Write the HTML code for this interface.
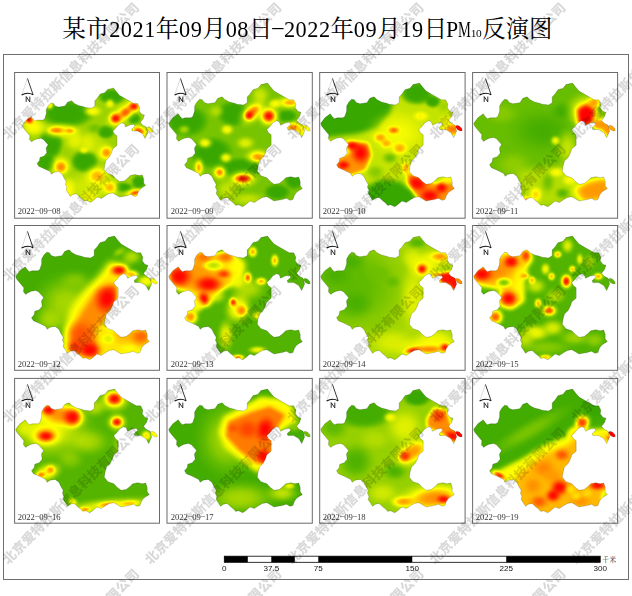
<!DOCTYPE html>
<html><head><meta charset="utf-8"><title>PM10</title>
<style>html,body{margin:0;padding:0;background:#fff;overflow:hidden}svg{display:block}</style></head><body>
<svg width="632" height="596" viewBox="0 0 632 596" font-family="'Liberation Sans', sans-serif">
<defs>
<filter id="cm" x="0" y="0" width="100%" height="100%" filterUnits="objectBoundingBox" color-interpolation-filters="sRGB"><feGaussianBlur stdDeviation="1.2"/><feComponentTransfer><feFuncR type="table" tableValues="0.22 0.40 0.62 0.85 1 1 1 1 1"/><feFuncG type="table" tableValues="0.655 0.74 0.83 0.93 1 0.78 0.55 0.27 0"/><feFuncB type="table" tableValues="0 0 0 0 0 0 0 0 0"/><feFuncA type="linear" slope="0" intercept="1"/></feComponentTransfer></filter>
<filter id="b4" x="-40%" y="-40%" width="180%" height="180%" color-interpolation-filters="sRGB"><feGaussianBlur stdDeviation="0.98"/></filter>
<filter id="b6" x="-40%" y="-40%" width="180%" height="180%" color-interpolation-filters="sRGB"><feGaussianBlur stdDeviation="1.47"/></filter>
<filter id="b7" x="-40%" y="-40%" width="180%" height="180%" color-interpolation-filters="sRGB"><feGaussianBlur stdDeviation="1.71"/></filter>
<filter id="b8" x="-40%" y="-40%" width="180%" height="180%" color-interpolation-filters="sRGB"><feGaussianBlur stdDeviation="1.96"/></filter>
<filter id="b9" x="-40%" y="-40%" width="180%" height="180%" color-interpolation-filters="sRGB"><feGaussianBlur stdDeviation="2.20"/></filter>
<filter id="b10" x="-40%" y="-40%" width="180%" height="180%" color-interpolation-filters="sRGB"><feGaussianBlur stdDeviation="2.45"/></filter>
<filter id="b12" x="-40%" y="-40%" width="180%" height="180%" color-interpolation-filters="sRGB"><feGaussianBlur stdDeviation="2.94"/></filter>
<filter id="b15" x="-40%" y="-40%" width="180%" height="180%" color-interpolation-filters="sRGB"><feGaussianBlur stdDeviation="3.67"/></filter>
<radialGradient id="v0"><stop offset="0" stop-color="#000000"/><stop offset=".25" stop-color="#000000" stop-opacity=".93"/><stop offset=".45" stop-color="#000000" stop-opacity=".66"/><stop offset=".65" stop-color="#000000" stop-opacity=".32"/><stop offset=".85" stop-color="#000000" stop-opacity=".07"/><stop offset="1" stop-color="#000000" stop-opacity="0"/></radialGradient>
<radialGradient id="v0f"><stop offset="0" stop-color="#000000"/><stop offset=".55" stop-color="#000000" stop-opacity=".97"/><stop offset=".72" stop-color="#000000" stop-opacity=".7"/><stop offset=".88" stop-color="#000000" stop-opacity=".22"/><stop offset="1" stop-color="#000000" stop-opacity="0"/></radialGradient>
<radialGradient id="v3"><stop offset="0" stop-color="#080808"/><stop offset=".25" stop-color="#080808" stop-opacity=".93"/><stop offset=".45" stop-color="#080808" stop-opacity=".66"/><stop offset=".65" stop-color="#080808" stop-opacity=".32"/><stop offset=".85" stop-color="#080808" stop-opacity=".07"/><stop offset="1" stop-color="#080808" stop-opacity="0"/></radialGradient>
<radialGradient id="v3f"><stop offset="0" stop-color="#080808"/><stop offset=".55" stop-color="#080808" stop-opacity=".97"/><stop offset=".72" stop-color="#080808" stop-opacity=".7"/><stop offset=".88" stop-color="#080808" stop-opacity=".22"/><stop offset="1" stop-color="#080808" stop-opacity="0"/></radialGradient>
<radialGradient id="v4"><stop offset="0" stop-color="#0a0a0a"/><stop offset=".25" stop-color="#0a0a0a" stop-opacity=".93"/><stop offset=".45" stop-color="#0a0a0a" stop-opacity=".66"/><stop offset=".65" stop-color="#0a0a0a" stop-opacity=".32"/><stop offset=".85" stop-color="#0a0a0a" stop-opacity=".07"/><stop offset="1" stop-color="#0a0a0a" stop-opacity="0"/></radialGradient>
<radialGradient id="v4f"><stop offset="0" stop-color="#0a0a0a"/><stop offset=".55" stop-color="#0a0a0a" stop-opacity=".97"/><stop offset=".72" stop-color="#0a0a0a" stop-opacity=".7"/><stop offset=".88" stop-color="#0a0a0a" stop-opacity=".22"/><stop offset="1" stop-color="#0a0a0a" stop-opacity="0"/></radialGradient>
<radialGradient id="v5"><stop offset="0" stop-color="#0d0d0d"/><stop offset=".25" stop-color="#0d0d0d" stop-opacity=".93"/><stop offset=".45" stop-color="#0d0d0d" stop-opacity=".66"/><stop offset=".65" stop-color="#0d0d0d" stop-opacity=".32"/><stop offset=".85" stop-color="#0d0d0d" stop-opacity=".07"/><stop offset="1" stop-color="#0d0d0d" stop-opacity="0"/></radialGradient>
<radialGradient id="v5f"><stop offset="0" stop-color="#0d0d0d"/><stop offset=".55" stop-color="#0d0d0d" stop-opacity=".97"/><stop offset=".72" stop-color="#0d0d0d" stop-opacity=".7"/><stop offset=".88" stop-color="#0d0d0d" stop-opacity=".22"/><stop offset="1" stop-color="#0d0d0d" stop-opacity="0"/></radialGradient>
<radialGradient id="v6"><stop offset="0" stop-color="#0f0f0f"/><stop offset=".25" stop-color="#0f0f0f" stop-opacity=".93"/><stop offset=".45" stop-color="#0f0f0f" stop-opacity=".66"/><stop offset=".65" stop-color="#0f0f0f" stop-opacity=".32"/><stop offset=".85" stop-color="#0f0f0f" stop-opacity=".07"/><stop offset="1" stop-color="#0f0f0f" stop-opacity="0"/></radialGradient>
<radialGradient id="v6f"><stop offset="0" stop-color="#0f0f0f"/><stop offset=".55" stop-color="#0f0f0f" stop-opacity=".97"/><stop offset=".72" stop-color="#0f0f0f" stop-opacity=".7"/><stop offset=".88" stop-color="#0f0f0f" stop-opacity=".22"/><stop offset="1" stop-color="#0f0f0f" stop-opacity="0"/></radialGradient>
<radialGradient id="v8"><stop offset="0" stop-color="#141414"/><stop offset=".25" stop-color="#141414" stop-opacity=".93"/><stop offset=".45" stop-color="#141414" stop-opacity=".66"/><stop offset=".65" stop-color="#141414" stop-opacity=".32"/><stop offset=".85" stop-color="#141414" stop-opacity=".07"/><stop offset="1" stop-color="#141414" stop-opacity="0"/></radialGradient>
<radialGradient id="v8f"><stop offset="0" stop-color="#141414"/><stop offset=".55" stop-color="#141414" stop-opacity=".97"/><stop offset=".72" stop-color="#141414" stop-opacity=".7"/><stop offset=".88" stop-color="#141414" stop-opacity=".22"/><stop offset="1" stop-color="#141414" stop-opacity="0"/></radialGradient>
<radialGradient id="v10"><stop offset="0" stop-color="#1a1a1a"/><stop offset=".25" stop-color="#1a1a1a" stop-opacity=".93"/><stop offset=".45" stop-color="#1a1a1a" stop-opacity=".66"/><stop offset=".65" stop-color="#1a1a1a" stop-opacity=".32"/><stop offset=".85" stop-color="#1a1a1a" stop-opacity=".07"/><stop offset="1" stop-color="#1a1a1a" stop-opacity="0"/></radialGradient>
<radialGradient id="v10f"><stop offset="0" stop-color="#1a1a1a"/><stop offset=".55" stop-color="#1a1a1a" stop-opacity=".97"/><stop offset=".72" stop-color="#1a1a1a" stop-opacity=".7"/><stop offset=".88" stop-color="#1a1a1a" stop-opacity=".22"/><stop offset="1" stop-color="#1a1a1a" stop-opacity="0"/></radialGradient>
<radialGradient id="v12"><stop offset="0" stop-color="#1f1f1f"/><stop offset=".25" stop-color="#1f1f1f" stop-opacity=".93"/><stop offset=".45" stop-color="#1f1f1f" stop-opacity=".66"/><stop offset=".65" stop-color="#1f1f1f" stop-opacity=".32"/><stop offset=".85" stop-color="#1f1f1f" stop-opacity=".07"/><stop offset="1" stop-color="#1f1f1f" stop-opacity="0"/></radialGradient>
<radialGradient id="v12f"><stop offset="0" stop-color="#1f1f1f"/><stop offset=".55" stop-color="#1f1f1f" stop-opacity=".97"/><stop offset=".72" stop-color="#1f1f1f" stop-opacity=".7"/><stop offset=".88" stop-color="#1f1f1f" stop-opacity=".22"/><stop offset="1" stop-color="#1f1f1f" stop-opacity="0"/></radialGradient>
<radialGradient id="v14"><stop offset="0" stop-color="#242424"/><stop offset=".25" stop-color="#242424" stop-opacity=".93"/><stop offset=".45" stop-color="#242424" stop-opacity=".66"/><stop offset=".65" stop-color="#242424" stop-opacity=".32"/><stop offset=".85" stop-color="#242424" stop-opacity=".07"/><stop offset="1" stop-color="#242424" stop-opacity="0"/></radialGradient>
<radialGradient id="v14f"><stop offset="0" stop-color="#242424"/><stop offset=".55" stop-color="#242424" stop-opacity=".97"/><stop offset=".72" stop-color="#242424" stop-opacity=".7"/><stop offset=".88" stop-color="#242424" stop-opacity=".22"/><stop offset="1" stop-color="#242424" stop-opacity="0"/></radialGradient>
<radialGradient id="v15"><stop offset="0" stop-color="#262626"/><stop offset=".25" stop-color="#262626" stop-opacity=".93"/><stop offset=".45" stop-color="#262626" stop-opacity=".66"/><stop offset=".65" stop-color="#262626" stop-opacity=".32"/><stop offset=".85" stop-color="#262626" stop-opacity=".07"/><stop offset="1" stop-color="#262626" stop-opacity="0"/></radialGradient>
<radialGradient id="v15f"><stop offset="0" stop-color="#262626"/><stop offset=".55" stop-color="#262626" stop-opacity=".97"/><stop offset=".72" stop-color="#262626" stop-opacity=".7"/><stop offset=".88" stop-color="#262626" stop-opacity=".22"/><stop offset="1" stop-color="#262626" stop-opacity="0"/></radialGradient>
<radialGradient id="v17"><stop offset="0" stop-color="#2b2b2b"/><stop offset=".25" stop-color="#2b2b2b" stop-opacity=".93"/><stop offset=".45" stop-color="#2b2b2b" stop-opacity=".66"/><stop offset=".65" stop-color="#2b2b2b" stop-opacity=".32"/><stop offset=".85" stop-color="#2b2b2b" stop-opacity=".07"/><stop offset="1" stop-color="#2b2b2b" stop-opacity="0"/></radialGradient>
<radialGradient id="v17f"><stop offset="0" stop-color="#2b2b2b"/><stop offset=".55" stop-color="#2b2b2b" stop-opacity=".97"/><stop offset=".72" stop-color="#2b2b2b" stop-opacity=".7"/><stop offset=".88" stop-color="#2b2b2b" stop-opacity=".22"/><stop offset="1" stop-color="#2b2b2b" stop-opacity="0"/></radialGradient>
<radialGradient id="v20"><stop offset="0" stop-color="#333333"/><stop offset=".25" stop-color="#333333" stop-opacity=".93"/><stop offset=".45" stop-color="#333333" stop-opacity=".66"/><stop offset=".65" stop-color="#333333" stop-opacity=".32"/><stop offset=".85" stop-color="#333333" stop-opacity=".07"/><stop offset="1" stop-color="#333333" stop-opacity="0"/></radialGradient>
<radialGradient id="v20f"><stop offset="0" stop-color="#333333"/><stop offset=".55" stop-color="#333333" stop-opacity=".97"/><stop offset=".72" stop-color="#333333" stop-opacity=".7"/><stop offset=".88" stop-color="#333333" stop-opacity=".22"/><stop offset="1" stop-color="#333333" stop-opacity="0"/></radialGradient>
<radialGradient id="v22"><stop offset="0" stop-color="#383838"/><stop offset=".25" stop-color="#383838" stop-opacity=".93"/><stop offset=".45" stop-color="#383838" stop-opacity=".66"/><stop offset=".65" stop-color="#383838" stop-opacity=".32"/><stop offset=".85" stop-color="#383838" stop-opacity=".07"/><stop offset="1" stop-color="#383838" stop-opacity="0"/></radialGradient>
<radialGradient id="v22f"><stop offset="0" stop-color="#383838"/><stop offset=".55" stop-color="#383838" stop-opacity=".97"/><stop offset=".72" stop-color="#383838" stop-opacity=".7"/><stop offset=".88" stop-color="#383838" stop-opacity=".22"/><stop offset="1" stop-color="#383838" stop-opacity="0"/></radialGradient>
<radialGradient id="v25"><stop offset="0" stop-color="#404040"/><stop offset=".25" stop-color="#404040" stop-opacity=".93"/><stop offset=".45" stop-color="#404040" stop-opacity=".66"/><stop offset=".65" stop-color="#404040" stop-opacity=".32"/><stop offset=".85" stop-color="#404040" stop-opacity=".07"/><stop offset="1" stop-color="#404040" stop-opacity="0"/></radialGradient>
<radialGradient id="v25f"><stop offset="0" stop-color="#404040"/><stop offset=".55" stop-color="#404040" stop-opacity=".97"/><stop offset=".72" stop-color="#404040" stop-opacity=".7"/><stop offset=".88" stop-color="#404040" stop-opacity=".22"/><stop offset="1" stop-color="#404040" stop-opacity="0"/></radialGradient>
<radialGradient id="v27"><stop offset="0" stop-color="#454545"/><stop offset=".25" stop-color="#454545" stop-opacity=".93"/><stop offset=".45" stop-color="#454545" stop-opacity=".66"/><stop offset=".65" stop-color="#454545" stop-opacity=".32"/><stop offset=".85" stop-color="#454545" stop-opacity=".07"/><stop offset="1" stop-color="#454545" stop-opacity="0"/></radialGradient>
<radialGradient id="v27f"><stop offset="0" stop-color="#454545"/><stop offset=".55" stop-color="#454545" stop-opacity=".97"/><stop offset=".72" stop-color="#454545" stop-opacity=".7"/><stop offset=".88" stop-color="#454545" stop-opacity=".22"/><stop offset="1" stop-color="#454545" stop-opacity="0"/></radialGradient>
<radialGradient id="v30"><stop offset="0" stop-color="#4c4c4c"/><stop offset=".25" stop-color="#4c4c4c" stop-opacity=".93"/><stop offset=".45" stop-color="#4c4c4c" stop-opacity=".66"/><stop offset=".65" stop-color="#4c4c4c" stop-opacity=".32"/><stop offset=".85" stop-color="#4c4c4c" stop-opacity=".07"/><stop offset="1" stop-color="#4c4c4c" stop-opacity="0"/></radialGradient>
<radialGradient id="v30f"><stop offset="0" stop-color="#4c4c4c"/><stop offset=".55" stop-color="#4c4c4c" stop-opacity=".97"/><stop offset=".72" stop-color="#4c4c4c" stop-opacity=".7"/><stop offset=".88" stop-color="#4c4c4c" stop-opacity=".22"/><stop offset="1" stop-color="#4c4c4c" stop-opacity="0"/></radialGradient>
<radialGradient id="v32"><stop offset="0" stop-color="#525252"/><stop offset=".25" stop-color="#525252" stop-opacity=".93"/><stop offset=".45" stop-color="#525252" stop-opacity=".66"/><stop offset=".65" stop-color="#525252" stop-opacity=".32"/><stop offset=".85" stop-color="#525252" stop-opacity=".07"/><stop offset="1" stop-color="#525252" stop-opacity="0"/></radialGradient>
<radialGradient id="v32f"><stop offset="0" stop-color="#525252"/><stop offset=".55" stop-color="#525252" stop-opacity=".97"/><stop offset=".72" stop-color="#525252" stop-opacity=".7"/><stop offset=".88" stop-color="#525252" stop-opacity=".22"/><stop offset="1" stop-color="#525252" stop-opacity="0"/></radialGradient>
<radialGradient id="v33"><stop offset="0" stop-color="#545454"/><stop offset=".25" stop-color="#545454" stop-opacity=".93"/><stop offset=".45" stop-color="#545454" stop-opacity=".66"/><stop offset=".65" stop-color="#545454" stop-opacity=".32"/><stop offset=".85" stop-color="#545454" stop-opacity=".07"/><stop offset="1" stop-color="#545454" stop-opacity="0"/></radialGradient>
<radialGradient id="v33f"><stop offset="0" stop-color="#545454"/><stop offset=".55" stop-color="#545454" stop-opacity=".97"/><stop offset=".72" stop-color="#545454" stop-opacity=".7"/><stop offset=".88" stop-color="#545454" stop-opacity=".22"/><stop offset="1" stop-color="#545454" stop-opacity="0"/></radialGradient>
<radialGradient id="v35"><stop offset="0" stop-color="#595959"/><stop offset=".25" stop-color="#595959" stop-opacity=".93"/><stop offset=".45" stop-color="#595959" stop-opacity=".66"/><stop offset=".65" stop-color="#595959" stop-opacity=".32"/><stop offset=".85" stop-color="#595959" stop-opacity=".07"/><stop offset="1" stop-color="#595959" stop-opacity="0"/></radialGradient>
<radialGradient id="v35f"><stop offset="0" stop-color="#595959"/><stop offset=".55" stop-color="#595959" stop-opacity=".97"/><stop offset=".72" stop-color="#595959" stop-opacity=".7"/><stop offset=".88" stop-color="#595959" stop-opacity=".22"/><stop offset="1" stop-color="#595959" stop-opacity="0"/></radialGradient>
<radialGradient id="v36"><stop offset="0" stop-color="#5c5c5c"/><stop offset=".25" stop-color="#5c5c5c" stop-opacity=".93"/><stop offset=".45" stop-color="#5c5c5c" stop-opacity=".66"/><stop offset=".65" stop-color="#5c5c5c" stop-opacity=".32"/><stop offset=".85" stop-color="#5c5c5c" stop-opacity=".07"/><stop offset="1" stop-color="#5c5c5c" stop-opacity="0"/></radialGradient>
<radialGradient id="v36f"><stop offset="0" stop-color="#5c5c5c"/><stop offset=".55" stop-color="#5c5c5c" stop-opacity=".97"/><stop offset=".72" stop-color="#5c5c5c" stop-opacity=".7"/><stop offset=".88" stop-color="#5c5c5c" stop-opacity=".22"/><stop offset="1" stop-color="#5c5c5c" stop-opacity="0"/></radialGradient>
<radialGradient id="v38"><stop offset="0" stop-color="#616161"/><stop offset=".25" stop-color="#616161" stop-opacity=".93"/><stop offset=".45" stop-color="#616161" stop-opacity=".66"/><stop offset=".65" stop-color="#616161" stop-opacity=".32"/><stop offset=".85" stop-color="#616161" stop-opacity=".07"/><stop offset="1" stop-color="#616161" stop-opacity="0"/></radialGradient>
<radialGradient id="v38f"><stop offset="0" stop-color="#616161"/><stop offset=".55" stop-color="#616161" stop-opacity=".97"/><stop offset=".72" stop-color="#616161" stop-opacity=".7"/><stop offset=".88" stop-color="#616161" stop-opacity=".22"/><stop offset="1" stop-color="#616161" stop-opacity="0"/></radialGradient>
<radialGradient id="v40"><stop offset="0" stop-color="#666666"/><stop offset=".25" stop-color="#666666" stop-opacity=".93"/><stop offset=".45" stop-color="#666666" stop-opacity=".66"/><stop offset=".65" stop-color="#666666" stop-opacity=".32"/><stop offset=".85" stop-color="#666666" stop-opacity=".07"/><stop offset="1" stop-color="#666666" stop-opacity="0"/></radialGradient>
<radialGradient id="v40f"><stop offset="0" stop-color="#666666"/><stop offset=".55" stop-color="#666666" stop-opacity=".97"/><stop offset=".72" stop-color="#666666" stop-opacity=".7"/><stop offset=".88" stop-color="#666666" stop-opacity=".22"/><stop offset="1" stop-color="#666666" stop-opacity="0"/></radialGradient>
<radialGradient id="v42"><stop offset="0" stop-color="#6b6b6b"/><stop offset=".25" stop-color="#6b6b6b" stop-opacity=".93"/><stop offset=".45" stop-color="#6b6b6b" stop-opacity=".66"/><stop offset=".65" stop-color="#6b6b6b" stop-opacity=".32"/><stop offset=".85" stop-color="#6b6b6b" stop-opacity=".07"/><stop offset="1" stop-color="#6b6b6b" stop-opacity="0"/></radialGradient>
<radialGradient id="v42f"><stop offset="0" stop-color="#6b6b6b"/><stop offset=".55" stop-color="#6b6b6b" stop-opacity=".97"/><stop offset=".72" stop-color="#6b6b6b" stop-opacity=".7"/><stop offset=".88" stop-color="#6b6b6b" stop-opacity=".22"/><stop offset="1" stop-color="#6b6b6b" stop-opacity="0"/></radialGradient>
<radialGradient id="v45"><stop offset="0" stop-color="#737373"/><stop offset=".25" stop-color="#737373" stop-opacity=".93"/><stop offset=".45" stop-color="#737373" stop-opacity=".66"/><stop offset=".65" stop-color="#737373" stop-opacity=".32"/><stop offset=".85" stop-color="#737373" stop-opacity=".07"/><stop offset="1" stop-color="#737373" stop-opacity="0"/></radialGradient>
<radialGradient id="v45f"><stop offset="0" stop-color="#737373"/><stop offset=".55" stop-color="#737373" stop-opacity=".97"/><stop offset=".72" stop-color="#737373" stop-opacity=".7"/><stop offset=".88" stop-color="#737373" stop-opacity=".22"/><stop offset="1" stop-color="#737373" stop-opacity="0"/></radialGradient>
<radialGradient id="v47"><stop offset="0" stop-color="#787878"/><stop offset=".25" stop-color="#787878" stop-opacity=".93"/><stop offset=".45" stop-color="#787878" stop-opacity=".66"/><stop offset=".65" stop-color="#787878" stop-opacity=".32"/><stop offset=".85" stop-color="#787878" stop-opacity=".07"/><stop offset="1" stop-color="#787878" stop-opacity="0"/></radialGradient>
<radialGradient id="v47f"><stop offset="0" stop-color="#787878"/><stop offset=".55" stop-color="#787878" stop-opacity=".97"/><stop offset=".72" stop-color="#787878" stop-opacity=".7"/><stop offset=".88" stop-color="#787878" stop-opacity=".22"/><stop offset="1" stop-color="#787878" stop-opacity="0"/></radialGradient>
<radialGradient id="v50"><stop offset="0" stop-color="#808080"/><stop offset=".25" stop-color="#808080" stop-opacity=".93"/><stop offset=".45" stop-color="#808080" stop-opacity=".66"/><stop offset=".65" stop-color="#808080" stop-opacity=".32"/><stop offset=".85" stop-color="#808080" stop-opacity=".07"/><stop offset="1" stop-color="#808080" stop-opacity="0"/></radialGradient>
<radialGradient id="v50f"><stop offset="0" stop-color="#808080"/><stop offset=".55" stop-color="#808080" stop-opacity=".97"/><stop offset=".72" stop-color="#808080" stop-opacity=".7"/><stop offset=".88" stop-color="#808080" stop-opacity=".22"/><stop offset="1" stop-color="#808080" stop-opacity="0"/></radialGradient>
<radialGradient id="v55"><stop offset="0" stop-color="#8c8c8c"/><stop offset=".25" stop-color="#8c8c8c" stop-opacity=".93"/><stop offset=".45" stop-color="#8c8c8c" stop-opacity=".66"/><stop offset=".65" stop-color="#8c8c8c" stop-opacity=".32"/><stop offset=".85" stop-color="#8c8c8c" stop-opacity=".07"/><stop offset="1" stop-color="#8c8c8c" stop-opacity="0"/></radialGradient>
<radialGradient id="v55f"><stop offset="0" stop-color="#8c8c8c"/><stop offset=".55" stop-color="#8c8c8c" stop-opacity=".97"/><stop offset=".72" stop-color="#8c8c8c" stop-opacity=".7"/><stop offset=".88" stop-color="#8c8c8c" stop-opacity=".22"/><stop offset="1" stop-color="#8c8c8c" stop-opacity="0"/></radialGradient>
<radialGradient id="v56"><stop offset="0" stop-color="#8f8f8f"/><stop offset=".25" stop-color="#8f8f8f" stop-opacity=".93"/><stop offset=".45" stop-color="#8f8f8f" stop-opacity=".66"/><stop offset=".65" stop-color="#8f8f8f" stop-opacity=".32"/><stop offset=".85" stop-color="#8f8f8f" stop-opacity=".07"/><stop offset="1" stop-color="#8f8f8f" stop-opacity="0"/></radialGradient>
<radialGradient id="v56f"><stop offset="0" stop-color="#8f8f8f"/><stop offset=".55" stop-color="#8f8f8f" stop-opacity=".97"/><stop offset=".72" stop-color="#8f8f8f" stop-opacity=".7"/><stop offset=".88" stop-color="#8f8f8f" stop-opacity=".22"/><stop offset="1" stop-color="#8f8f8f" stop-opacity="0"/></radialGradient>
<radialGradient id="v58"><stop offset="0" stop-color="#949494"/><stop offset=".25" stop-color="#949494" stop-opacity=".93"/><stop offset=".45" stop-color="#949494" stop-opacity=".66"/><stop offset=".65" stop-color="#949494" stop-opacity=".32"/><stop offset=".85" stop-color="#949494" stop-opacity=".07"/><stop offset="1" stop-color="#949494" stop-opacity="0"/></radialGradient>
<radialGradient id="v58f"><stop offset="0" stop-color="#949494"/><stop offset=".55" stop-color="#949494" stop-opacity=".97"/><stop offset=".72" stop-color="#949494" stop-opacity=".7"/><stop offset=".88" stop-color="#949494" stop-opacity=".22"/><stop offset="1" stop-color="#949494" stop-opacity="0"/></radialGradient>
<radialGradient id="v60"><stop offset="0" stop-color="#999999"/><stop offset=".25" stop-color="#999999" stop-opacity=".93"/><stop offset=".45" stop-color="#999999" stop-opacity=".66"/><stop offset=".65" stop-color="#999999" stop-opacity=".32"/><stop offset=".85" stop-color="#999999" stop-opacity=".07"/><stop offset="1" stop-color="#999999" stop-opacity="0"/></radialGradient>
<radialGradient id="v60f"><stop offset="0" stop-color="#999999"/><stop offset=".55" stop-color="#999999" stop-opacity=".97"/><stop offset=".72" stop-color="#999999" stop-opacity=".7"/><stop offset=".88" stop-color="#999999" stop-opacity=".22"/><stop offset="1" stop-color="#999999" stop-opacity="0"/></radialGradient>
<radialGradient id="v62"><stop offset="0" stop-color="#9e9e9e"/><stop offset=".25" stop-color="#9e9e9e" stop-opacity=".93"/><stop offset=".45" stop-color="#9e9e9e" stop-opacity=".66"/><stop offset=".65" stop-color="#9e9e9e" stop-opacity=".32"/><stop offset=".85" stop-color="#9e9e9e" stop-opacity=".07"/><stop offset="1" stop-color="#9e9e9e" stop-opacity="0"/></radialGradient>
<radialGradient id="v62f"><stop offset="0" stop-color="#9e9e9e"/><stop offset=".55" stop-color="#9e9e9e" stop-opacity=".97"/><stop offset=".72" stop-color="#9e9e9e" stop-opacity=".7"/><stop offset=".88" stop-color="#9e9e9e" stop-opacity=".22"/><stop offset="1" stop-color="#9e9e9e" stop-opacity="0"/></radialGradient>
<radialGradient id="v66"><stop offset="0" stop-color="#a8a8a8"/><stop offset=".25" stop-color="#a8a8a8" stop-opacity=".93"/><stop offset=".45" stop-color="#a8a8a8" stop-opacity=".66"/><stop offset=".65" stop-color="#a8a8a8" stop-opacity=".32"/><stop offset=".85" stop-color="#a8a8a8" stop-opacity=".07"/><stop offset="1" stop-color="#a8a8a8" stop-opacity="0"/></radialGradient>
<radialGradient id="v66f"><stop offset="0" stop-color="#a8a8a8"/><stop offset=".55" stop-color="#a8a8a8" stop-opacity=".97"/><stop offset=".72" stop-color="#a8a8a8" stop-opacity=".7"/><stop offset=".88" stop-color="#a8a8a8" stop-opacity=".22"/><stop offset="1" stop-color="#a8a8a8" stop-opacity="0"/></radialGradient>
<radialGradient id="v68"><stop offset="0" stop-color="#adadad"/><stop offset=".25" stop-color="#adadad" stop-opacity=".93"/><stop offset=".45" stop-color="#adadad" stop-opacity=".66"/><stop offset=".65" stop-color="#adadad" stop-opacity=".32"/><stop offset=".85" stop-color="#adadad" stop-opacity=".07"/><stop offset="1" stop-color="#adadad" stop-opacity="0"/></radialGradient>
<radialGradient id="v68f"><stop offset="0" stop-color="#adadad"/><stop offset=".55" stop-color="#adadad" stop-opacity=".97"/><stop offset=".72" stop-color="#adadad" stop-opacity=".7"/><stop offset=".88" stop-color="#adadad" stop-opacity=".22"/><stop offset="1" stop-color="#adadad" stop-opacity="0"/></radialGradient>
<radialGradient id="v70"><stop offset="0" stop-color="#b2b2b2"/><stop offset=".25" stop-color="#b2b2b2" stop-opacity=".93"/><stop offset=".45" stop-color="#b2b2b2" stop-opacity=".66"/><stop offset=".65" stop-color="#b2b2b2" stop-opacity=".32"/><stop offset=".85" stop-color="#b2b2b2" stop-opacity=".07"/><stop offset="1" stop-color="#b2b2b2" stop-opacity="0"/></radialGradient>
<radialGradient id="v70f"><stop offset="0" stop-color="#b2b2b2"/><stop offset=".55" stop-color="#b2b2b2" stop-opacity=".97"/><stop offset=".72" stop-color="#b2b2b2" stop-opacity=".7"/><stop offset=".88" stop-color="#b2b2b2" stop-opacity=".22"/><stop offset="1" stop-color="#b2b2b2" stop-opacity="0"/></radialGradient>
<radialGradient id="v72"><stop offset="0" stop-color="#b8b8b8"/><stop offset=".25" stop-color="#b8b8b8" stop-opacity=".93"/><stop offset=".45" stop-color="#b8b8b8" stop-opacity=".66"/><stop offset=".65" stop-color="#b8b8b8" stop-opacity=".32"/><stop offset=".85" stop-color="#b8b8b8" stop-opacity=".07"/><stop offset="1" stop-color="#b8b8b8" stop-opacity="0"/></radialGradient>
<radialGradient id="v72f"><stop offset="0" stop-color="#b8b8b8"/><stop offset=".55" stop-color="#b8b8b8" stop-opacity=".97"/><stop offset=".72" stop-color="#b8b8b8" stop-opacity=".7"/><stop offset=".88" stop-color="#b8b8b8" stop-opacity=".22"/><stop offset="1" stop-color="#b8b8b8" stop-opacity="0"/></radialGradient>
<radialGradient id="v74"><stop offset="0" stop-color="#bdbdbd"/><stop offset=".25" stop-color="#bdbdbd" stop-opacity=".93"/><stop offset=".45" stop-color="#bdbdbd" stop-opacity=".66"/><stop offset=".65" stop-color="#bdbdbd" stop-opacity=".32"/><stop offset=".85" stop-color="#bdbdbd" stop-opacity=".07"/><stop offset="1" stop-color="#bdbdbd" stop-opacity="0"/></radialGradient>
<radialGradient id="v74f"><stop offset="0" stop-color="#bdbdbd"/><stop offset=".55" stop-color="#bdbdbd" stop-opacity=".97"/><stop offset=".72" stop-color="#bdbdbd" stop-opacity=".7"/><stop offset=".88" stop-color="#bdbdbd" stop-opacity=".22"/><stop offset="1" stop-color="#bdbdbd" stop-opacity="0"/></radialGradient>
<radialGradient id="v75"><stop offset="0" stop-color="#bfbfbf"/><stop offset=".25" stop-color="#bfbfbf" stop-opacity=".93"/><stop offset=".45" stop-color="#bfbfbf" stop-opacity=".66"/><stop offset=".65" stop-color="#bfbfbf" stop-opacity=".32"/><stop offset=".85" stop-color="#bfbfbf" stop-opacity=".07"/><stop offset="1" stop-color="#bfbfbf" stop-opacity="0"/></radialGradient>
<radialGradient id="v75f"><stop offset="0" stop-color="#bfbfbf"/><stop offset=".55" stop-color="#bfbfbf" stop-opacity=".97"/><stop offset=".72" stop-color="#bfbfbf" stop-opacity=".7"/><stop offset=".88" stop-color="#bfbfbf" stop-opacity=".22"/><stop offset="1" stop-color="#bfbfbf" stop-opacity="0"/></radialGradient>
<radialGradient id="v76"><stop offset="0" stop-color="#c2c2c2"/><stop offset=".25" stop-color="#c2c2c2" stop-opacity=".93"/><stop offset=".45" stop-color="#c2c2c2" stop-opacity=".66"/><stop offset=".65" stop-color="#c2c2c2" stop-opacity=".32"/><stop offset=".85" stop-color="#c2c2c2" stop-opacity=".07"/><stop offset="1" stop-color="#c2c2c2" stop-opacity="0"/></radialGradient>
<radialGradient id="v76f"><stop offset="0" stop-color="#c2c2c2"/><stop offset=".55" stop-color="#c2c2c2" stop-opacity=".97"/><stop offset=".72" stop-color="#c2c2c2" stop-opacity=".7"/><stop offset=".88" stop-color="#c2c2c2" stop-opacity=".22"/><stop offset="1" stop-color="#c2c2c2" stop-opacity="0"/></radialGradient>
<radialGradient id="v78"><stop offset="0" stop-color="#c7c7c7"/><stop offset=".25" stop-color="#c7c7c7" stop-opacity=".93"/><stop offset=".45" stop-color="#c7c7c7" stop-opacity=".66"/><stop offset=".65" stop-color="#c7c7c7" stop-opacity=".32"/><stop offset=".85" stop-color="#c7c7c7" stop-opacity=".07"/><stop offset="1" stop-color="#c7c7c7" stop-opacity="0"/></radialGradient>
<radialGradient id="v78f"><stop offset="0" stop-color="#c7c7c7"/><stop offset=".55" stop-color="#c7c7c7" stop-opacity=".97"/><stop offset=".72" stop-color="#c7c7c7" stop-opacity=".7"/><stop offset=".88" stop-color="#c7c7c7" stop-opacity=".22"/><stop offset="1" stop-color="#c7c7c7" stop-opacity="0"/></radialGradient>
<radialGradient id="v80"><stop offset="0" stop-color="#cccccc"/><stop offset=".25" stop-color="#cccccc" stop-opacity=".93"/><stop offset=".45" stop-color="#cccccc" stop-opacity=".66"/><stop offset=".65" stop-color="#cccccc" stop-opacity=".32"/><stop offset=".85" stop-color="#cccccc" stop-opacity=".07"/><stop offset="1" stop-color="#cccccc" stop-opacity="0"/></radialGradient>
<radialGradient id="v80f"><stop offset="0" stop-color="#cccccc"/><stop offset=".55" stop-color="#cccccc" stop-opacity=".97"/><stop offset=".72" stop-color="#cccccc" stop-opacity=".7"/><stop offset=".88" stop-color="#cccccc" stop-opacity=".22"/><stop offset="1" stop-color="#cccccc" stop-opacity="0"/></radialGradient>
<radialGradient id="v82"><stop offset="0" stop-color="#d1d1d1"/><stop offset=".25" stop-color="#d1d1d1" stop-opacity=".93"/><stop offset=".45" stop-color="#d1d1d1" stop-opacity=".66"/><stop offset=".65" stop-color="#d1d1d1" stop-opacity=".32"/><stop offset=".85" stop-color="#d1d1d1" stop-opacity=".07"/><stop offset="1" stop-color="#d1d1d1" stop-opacity="0"/></radialGradient>
<radialGradient id="v82f"><stop offset="0" stop-color="#d1d1d1"/><stop offset=".55" stop-color="#d1d1d1" stop-opacity=".97"/><stop offset=".72" stop-color="#d1d1d1" stop-opacity=".7"/><stop offset=".88" stop-color="#d1d1d1" stop-opacity=".22"/><stop offset="1" stop-color="#d1d1d1" stop-opacity="0"/></radialGradient>
<radialGradient id="v84"><stop offset="0" stop-color="#d6d6d6"/><stop offset=".25" stop-color="#d6d6d6" stop-opacity=".93"/><stop offset=".45" stop-color="#d6d6d6" stop-opacity=".66"/><stop offset=".65" stop-color="#d6d6d6" stop-opacity=".32"/><stop offset=".85" stop-color="#d6d6d6" stop-opacity=".07"/><stop offset="1" stop-color="#d6d6d6" stop-opacity="0"/></radialGradient>
<radialGradient id="v84f"><stop offset="0" stop-color="#d6d6d6"/><stop offset=".55" stop-color="#d6d6d6" stop-opacity=".97"/><stop offset=".72" stop-color="#d6d6d6" stop-opacity=".7"/><stop offset=".88" stop-color="#d6d6d6" stop-opacity=".22"/><stop offset="1" stop-color="#d6d6d6" stop-opacity="0"/></radialGradient>
<radialGradient id="v85"><stop offset="0" stop-color="#d9d9d9"/><stop offset=".25" stop-color="#d9d9d9" stop-opacity=".93"/><stop offset=".45" stop-color="#d9d9d9" stop-opacity=".66"/><stop offset=".65" stop-color="#d9d9d9" stop-opacity=".32"/><stop offset=".85" stop-color="#d9d9d9" stop-opacity=".07"/><stop offset="1" stop-color="#d9d9d9" stop-opacity="0"/></radialGradient>
<radialGradient id="v85f"><stop offset="0" stop-color="#d9d9d9"/><stop offset=".55" stop-color="#d9d9d9" stop-opacity=".97"/><stop offset=".72" stop-color="#d9d9d9" stop-opacity=".7"/><stop offset=".88" stop-color="#d9d9d9" stop-opacity=".22"/><stop offset="1" stop-color="#d9d9d9" stop-opacity="0"/></radialGradient>
<radialGradient id="v88"><stop offset="0" stop-color="#e0e0e0"/><stop offset=".25" stop-color="#e0e0e0" stop-opacity=".93"/><stop offset=".45" stop-color="#e0e0e0" stop-opacity=".66"/><stop offset=".65" stop-color="#e0e0e0" stop-opacity=".32"/><stop offset=".85" stop-color="#e0e0e0" stop-opacity=".07"/><stop offset="1" stop-color="#e0e0e0" stop-opacity="0"/></radialGradient>
<radialGradient id="v88f"><stop offset="0" stop-color="#e0e0e0"/><stop offset=".55" stop-color="#e0e0e0" stop-opacity=".97"/><stop offset=".72" stop-color="#e0e0e0" stop-opacity=".7"/><stop offset=".88" stop-color="#e0e0e0" stop-opacity=".22"/><stop offset="1" stop-color="#e0e0e0" stop-opacity="0"/></radialGradient>
<radialGradient id="v90"><stop offset="0" stop-color="#e6e6e6"/><stop offset=".25" stop-color="#e6e6e6" stop-opacity=".93"/><stop offset=".45" stop-color="#e6e6e6" stop-opacity=".66"/><stop offset=".65" stop-color="#e6e6e6" stop-opacity=".32"/><stop offset=".85" stop-color="#e6e6e6" stop-opacity=".07"/><stop offset="1" stop-color="#e6e6e6" stop-opacity="0"/></radialGradient>
<radialGradient id="v90f"><stop offset="0" stop-color="#e6e6e6"/><stop offset=".55" stop-color="#e6e6e6" stop-opacity=".97"/><stop offset=".72" stop-color="#e6e6e6" stop-opacity=".7"/><stop offset=".88" stop-color="#e6e6e6" stop-opacity=".22"/><stop offset="1" stop-color="#e6e6e6" stop-opacity="0"/></radialGradient>
<radialGradient id="v92"><stop offset="0" stop-color="#ebebeb"/><stop offset=".25" stop-color="#ebebeb" stop-opacity=".93"/><stop offset=".45" stop-color="#ebebeb" stop-opacity=".66"/><stop offset=".65" stop-color="#ebebeb" stop-opacity=".32"/><stop offset=".85" stop-color="#ebebeb" stop-opacity=".07"/><stop offset="1" stop-color="#ebebeb" stop-opacity="0"/></radialGradient>
<radialGradient id="v92f"><stop offset="0" stop-color="#ebebeb"/><stop offset=".55" stop-color="#ebebeb" stop-opacity=".97"/><stop offset=".72" stop-color="#ebebeb" stop-opacity=".7"/><stop offset=".88" stop-color="#ebebeb" stop-opacity=".22"/><stop offset="1" stop-color="#ebebeb" stop-opacity="0"/></radialGradient>
<radialGradient id="v95"><stop offset="0" stop-color="#f2f2f2"/><stop offset=".25" stop-color="#f2f2f2" stop-opacity=".93"/><stop offset=".45" stop-color="#f2f2f2" stop-opacity=".66"/><stop offset=".65" stop-color="#f2f2f2" stop-opacity=".32"/><stop offset=".85" stop-color="#f2f2f2" stop-opacity=".07"/><stop offset="1" stop-color="#f2f2f2" stop-opacity="0"/></radialGradient>
<radialGradient id="v95f"><stop offset="0" stop-color="#f2f2f2"/><stop offset=".55" stop-color="#f2f2f2" stop-opacity=".97"/><stop offset=".72" stop-color="#f2f2f2" stop-opacity=".7"/><stop offset=".88" stop-color="#f2f2f2" stop-opacity=".22"/><stop offset="1" stop-color="#f2f2f2" stop-opacity="0"/></radialGradient>
<radialGradient id="v100"><stop offset="0" stop-color="#ffffff"/><stop offset=".25" stop-color="#ffffff" stop-opacity=".93"/><stop offset=".45" stop-color="#ffffff" stop-opacity=".66"/><stop offset=".65" stop-color="#ffffff" stop-opacity=".32"/><stop offset=".85" stop-color="#ffffff" stop-opacity=".07"/><stop offset="1" stop-color="#ffffff" stop-opacity="0"/></radialGradient>
<radialGradient id="v100f"><stop offset="0" stop-color="#ffffff"/><stop offset=".55" stop-color="#ffffff" stop-opacity=".97"/><stop offset=".72" stop-color="#ffffff" stop-opacity=".7"/><stop offset=".88" stop-color="#ffffff" stop-opacity=".22"/><stop offset="1" stop-color="#ffffff" stop-opacity="0"/></radialGradient>
<path id="c0o" d="M8.4,53.2L12.2,48.1L17.2,44.4L18.9,46.9L21,49L23.5,48.1L28.9,48.1L30.6,46.9L32.3,41.8L32.3,37.2L34.4,33.5L36.9,30.9L39.4,31.4L41.1,33.9L44.5,35.1L51,34.1L53.7,30.1L57.7,28.7L60.4,31.4L64.4,33.4L69.8,34.8L71.4,35.5L77.4,36.2L80.8,34.2L80.8,28.8L83.4,26.1L86.1,22.1L90.8,20.7L93.5,17.4L99.6,16L102.2,19.4L105.6,23.4L110.3,26.1L116.3,29.5L119.7,31.5L123.7,31.5L125.7,35.5L125.1,38.9L127.7,42.2L130.4,42.9L129.1,46.9L126.4,50.3L128.4,53L132.4,55L133.8,60.3L131.1,66.4L128.4,61.7L123.7,59L118.3,59L117.7,57L121,54.3L119.7,52.3L115.7,53L111.6,55L110.3,51.6L107.6,50.9L104.3,53L101.6,56.3L98.9,59L100.2,61.7L102.9,63.7L102.9,70.4L102.9,73.4L98.9,76.7L97.5,80.8L95.5,84.8L92.1,88.1L90.8,92.8L90.1,97.5L93.5,101.6L98.9,103.6L102.2,106.9L105.6,109.6L110.3,108.9L113.6,106.3L116.3,103.6L121,102.6L125,103.6L128.4,102.9L129.7,106.9L129.7,111L131.7,113.6L129.1,115L126.4,117L124.4,119.7L123,123.7L120.3,124.4L117,122.4L113,123.7L108.9,124.4L105.6,125L102.2,123L98.9,121L94.8,121.7L91.5,123.7L87.4,126.4L83.4,125L79.4,128.4L76.7,130.4L72.7,128.4L70.3,129.1L67.7,126.4L65,124.4L62.3,121.7L58.9,122.4L56.2,124.4L54.2,121L52.2,118.3L52.9,115L51.5,112.3L52.2,109.6L50.2,106.3L48.2,102.2L44.8,99.5L40.1,100.2L37.4,102.2L36.1,99.5L30.7,96.9L24.7,94.2L23,91.5L25.4,88.8L26,85.4L30.1,84.1L32.8,80.8L32.1,76.1L34.1,72.7L32.3,70.8L29.4,67.4L26.8,66.2L22.7,67L19.7,68.3L17.6,69.9L15.5,67.4L15.9,63.7L12.6,59.9L9.2,55.7Z"/>
<clipPath id="c0"><use href="#c0o"/></clipPath>
<path id="c0i" d="M132.7,56.3L133.9,54.9L136.3,55.6L138.7,58.2L138.9,60L137,60.3L134.6,58.8Z"/>
<path id="c1o" d="M1.73,51.33L5.85,45.82L11.27,41.82L13.11,44.52L15.39,46.79L18.1,45.82L23.95,45.82L25.79,44.52L27.63,39.01L27.63,34.03L29.91,30.03L32.62,27.22L35.33,27.76L37.17,30.46L40.86,31.76L47.9,30.68L50.83,26.35L55.16,24.84L58.09,27.76L62.42,29.92L68.28,31.44L70.01,32.19L76.51,32.95L80.2,30.79L80.2,24.95L83.02,22.03L85.94,17.7L91.04,16.19L93.96,12.62L100.58,11.11L103.39,14.78L107.08,19.11L112.17,22.03L118.68,25.71L122.36,27.87L126.7,27.87L128.86,32.19L128.21,35.87L131.03,39.44L133.96,40.2L132.55,44.52L129.62,48.2L131.79,51.12L136.13,53.28L137.64,59.01L134.72,65.61L131.79,60.53L126.7,57.61L120.84,57.61L120.19,55.44L123.77,52.52L122.36,50.36L118.03,51.12L113.58,53.28L112.17,49.6L109.25,48.85L105.67,51.12L102.74,54.69L99.82,57.61L101.23,60.53L104.15,62.69L104.15,69.93L104.15,73.18L99.82,76.75L98.3,81.18L96.13,85.5L92.45,89.07L91.04,94.16L90.28,99.24L93.96,103.67L99.82,105.83L103.39,109.4L107.08,112.32L112.17,111.57L115.75,108.75L118.68,105.83L123.77,104.75L128.1,105.83L131.79,105.08L133.2,109.4L133.2,113.84L135.37,116.65L132.55,118.16L129.62,120.33L127.45,123.24L125.94,127.57L123.01,128.33L119.43,126.16L115.1,127.57L110.66,128.33L107.08,128.98L103.39,126.81L99.82,124.65L95.37,125.41L91.8,127.57L87.35,130.49L83.02,128.98L78.68,132.65L75.76,134.82L71.42,132.65L68.82,133.41L66,130.49L63.07,128.33L60.15,125.41L56.46,126.16L53.54,128.33L51.37,124.65L49.2,121.73L49.96,118.16L48.44,115.24L49.2,112.32L47.03,108.75L44.87,104.32L41.18,101.4L36.09,102.16L33.16,104.32L31.75,101.4L25.9,98.59L19.4,95.67L17.55,92.75L20.16,89.83L20.81,86.15L25.25,84.75L28.18,81.18L27.42,76.1L29.58,72.42L27.63,70.37L24.49,66.69L21.67,65.39L17.23,66.26L13.98,67.66L11.7,69.39L9.43,66.69L9.86,62.69L6.28,58.58L2.6,54.04Z"/>
<clipPath id="c1"><use href="#c1o"/></clipPath>
<path id="c1i" d="M136.45,54.69L137.75,53.17L140.35,53.93L142.95,56.74L143.17,58.69L141.11,59.01L138.51,57.39Z"/>
<g id="na"><path d="M13.4,6.3 L19.0,22.5" stroke="#222" stroke-width="0.9" fill="none"/><path d="M13.4,6.3 L7.8,22.8" stroke="#bbb" stroke-width="0.5" fill="none"/><path d="M7.6,23.0 Q13.4,19.6 19.2,22.7" stroke="#111" stroke-width="1.1" fill="none"/><path d="M12.2,29.9 V24.6 L15.8,29.9 V24.6" stroke="#111" stroke-width="0.85" fill="none" stroke-linejoin="miter"/></g>
<g id="wm" transform="rotate(-45)"><text x="-6.50 6.82 20.14 33.46 46.78 60.10 73.42 86.74 100.06 113.38 126.70 140.02 153.34 166.66" y="4.94" font-family="'Liberation Sans', 'Noto Sans CJK SC', sans-serif" font-size="13" font-weight="bold" stroke-width="0.26">北京爱特拉斯信息科技有限公司</text></g>
</defs>
<rect width="632" height="596" fill="#fff"/>
<text x="62.60" y="37.30" font-family="'Liberation Serif', 'Noto Serif CJK SC', serif" font-size="23.3" fill="#000">某</text>
<text x="85.90" y="37.30" font-family="'Liberation Serif', 'Noto Serif CJK SC', serif" font-size="23.3" fill="#000">市</text>
<text x="109.20 120.85 132.50 144.15" y="36.70" font-family="'Liberation Serif', serif" font-size="22.3" fill="#000" opacity=".99">2021</text>
<text x="155.80" y="37.30" font-family="'Liberation Serif', 'Noto Serif CJK SC', serif" font-size="23.3" fill="#000">年</text>
<text x="179.10 190.75" y="36.70" font-family="'Liberation Serif', serif" font-size="22.3" fill="#000" opacity=".99">09</text>
<text x="202.40" y="37.30" font-family="'Liberation Serif', 'Noto Serif CJK SC', serif" font-size="23.3" fill="#000">月</text>
<text x="225.70 237.35" y="36.70" font-family="'Liberation Serif', serif" font-size="22.3" fill="#000" opacity=".99">08</text>
<text x="249.00" y="37.30" font-family="'Liberation Serif', 'Noto Serif CJK SC', serif" font-size="23.3" fill="#000">日</text>
<text x="272.30" y="33.70" font-family="'Liberation Serif', serif" font-size="22.3" fill="#000" opacity=".99">–</text>
<text x="283.95 295.60 307.25 318.90" y="36.70" font-family="'Liberation Serif', serif" font-size="22.3" fill="#000" opacity=".99">2022</text>
<text x="330.55" y="37.30" font-family="'Liberation Serif', 'Noto Serif CJK SC', serif" font-size="23.3" fill="#000">年</text>
<text x="353.85 365.50" y="36.70" font-family="'Liberation Serif', serif" font-size="22.3" fill="#000" opacity=".99">09</text>
<text x="377.15" y="37.30" font-family="'Liberation Serif', 'Noto Serif CJK SC', serif" font-size="23.3" fill="#000">月</text>
<text x="400.45 412.10" y="36.70" font-family="'Liberation Serif', serif" font-size="22.3" fill="#000" opacity=".99">19</text>
<text x="423.75" y="37.30" font-family="'Liberation Serif', 'Noto Serif CJK SC', serif" font-size="23.3" fill="#000">日</text>
<text transform="translate(446.05,36.70) scale(0.98,1)" font-family="'Liberation Serif', serif" font-size="22.3" fill="#000" opacity=".99">P</text>
<text transform="translate(458.05,36.70) scale(0.65,1)" font-family="'Liberation Serif', serif" font-size="22.3" fill="#000" opacity=".99">M</text>
<text x="470.75 475.95" y="37.10" font-family="'Liberation Serif', serif" font-size="11.4" fill="#000" opacity=".99">10</text>
<text x="482.35" y="37.30" font-family="'Liberation Serif', 'Noto Serif CJK SC', serif" font-size="23.3" fill="#000">反</text>
<text x="505.65" y="37.30" font-family="'Liberation Serif', 'Noto Serif CJK SC', serif" font-size="23.3" fill="#000">演</text>
<text x="528.95" y="37.30" font-family="'Liberation Serif', 'Noto Serif CJK SC', serif" font-size="23.3" fill="#000">图</text>
<rect x="3.5" y="54.5" width="625" height="525" fill="none" stroke="#6e6e6e" stroke-width="1"/>
<g transform="translate(14,72)">
<g clip-path="url(#c0)"><g filter="url(#cm)"><rect x="-5" y="-5" width="160" height="160" fill="#404040"/><ellipse cx="73.5" cy="115.1" rx="37.2" ry="20.3" fill="url(#v36)"/><ellipse cx="80.8" cy="73.5" rx="16.9" ry="20.3" fill="url(#v33)"/><ellipse cx="52.7" cy="41.2" rx="30.3" ry="15.9" fill="url(#v0f)"/><ellipse cx="36.7" cy="71.0" rx="13.4" ry="18.5" fill="url(#v0f)"/><ellipse cx="70.6" cy="89.4" rx="15.3" ry="12.7" fill="url(#v0f)"/><ellipse cx="98.0" cy="24.5" rx="15.3" ry="8.9" fill="url(#v0f)"/><ellipse cx="120.0" cy="46.5" rx="7.6" ry="6.4" fill="url(#v0f)"/><ellipse cx="91.9" cy="60.0" rx="9.6" ry="7.6" fill="url(#v0f)"/><ellipse cx="31.8" cy="90.6" rx="11.5" ry="10.2" fill="url(#v0f)"/><ellipse cx="124.9" cy="110.2" rx="8.3" ry="8.3" fill="url(#v0f)"/><ellipse cx="107.8" cy="115.1" rx="12.1" ry="5.1" fill="url(#v0f)"/><ellipse cx="80.8" cy="56.3" rx="10.1" ry="6.8" fill="url(#v15)"/><ellipse cx="61.2" cy="68.6" rx="13.5" ry="13.5" fill="url(#v42)"/><ellipse cx="73.5" cy="71.0" rx="10.1" ry="13.5" fill="url(#v40)"/><ellipse cx="19.6" cy="55.1" rx="15.2" ry="11.5" fill="url(#v50)"/><ellipse cx="15.2" cy="47.8" rx="7.4" ry="6.1" fill="url(#v100)"/><ellipse cx="46.5" cy="58.8" rx="25.4" ry="10.1" fill="url(#v50)"/><ellipse cx="42.1" cy="58.3" rx="11.5" ry="4.7" fill="url(#v80)"/><ellipse cx="55.9" cy="58.8" rx="7.4" ry="4.1" fill="url(#v75)"/><ellipse cx="78.4" cy="39.2" rx="11.5" ry="6.8" fill="url(#v50)"/><ellipse cx="96.0" cy="31.4" rx="6.1" ry="6.1" fill="url(#v50)"/><ellipse cx="110.7" cy="40.4" rx="27.0" ry="11.5" fill="url(#v50)" transform="rotate(-35 110.7 40.4)"/><ellipse cx="101.7" cy="46.5" rx="8.8" ry="8.1" fill="url(#v100)"/><ellipse cx="111.5" cy="40.4" rx="10.1" ry="6.8" fill="url(#v85)" transform="rotate(-35 111.5 40.4)"/><ellipse cx="120.0" cy="34.3" rx="8.1" ry="6.8" fill="url(#v100)"/><ellipse cx="126.2" cy="59.3" rx="11.5" ry="6.8" fill="url(#v50)" transform="rotate(20 126.2 59.3)"/><ellipse cx="124.9" cy="58.8" rx="8.8" ry="5.1" fill="url(#v90)" transform="rotate(20 124.9 58.8)"/><ellipse cx="69.8" cy="78.4" rx="6.1" ry="4.7" fill="url(#v50)"/><ellipse cx="91.9" cy="80.8" rx="11.5" ry="11.5" fill="url(#v50)"/><ellipse cx="92.6" cy="80.8" rx="7.4" ry="7.4" fill="url(#v75)"/><ellipse cx="46.5" cy="94.3" rx="13.5" ry="13.5" fill="url(#v50)"/><ellipse cx="47.0" cy="95.1" rx="8.1" ry="8.1" fill="url(#v78)"/><ellipse cx="83.3" cy="104.1" rx="16.9" ry="14.2" fill="url(#v50)"/><ellipse cx="83.3" cy="104.1" rx="10.1" ry="8.8" fill="url(#v68)"/><ellipse cx="95.5" cy="115.1" rx="13.5" ry="10.8" fill="url(#v50)"/><ellipse cx="96.0" cy="115.6" rx="8.1" ry="6.8" fill="url(#v68)"/><ellipse cx="120.0" cy="120.5" rx="13.5" ry="5.4" fill="url(#v50)" transform="rotate(-15 120.0 120.5)"/><ellipse cx="121.3" cy="121.0" rx="8.8" ry="3.4" fill="url(#v95)" transform="rotate(-15 121.3 121.0)"/><ellipse cx="53.9" cy="117.6" rx="10.1" ry="15.2" fill="url(#v50)"/><ellipse cx="75.9" cy="124.9" rx="13.5" ry="8.5" fill="url(#v45)"/><ellipse cx="50.2" cy="112.7" rx="3.4" ry="2.7" fill="url(#v75)"/><ellipse cx="35.8" cy="33.3" rx="4.7" ry="5.4" fill="url(#v62)"/></g></g>
<use href="#c0i" fill="#ffff00" stroke="#000" stroke-opacity=".3" stroke-width=".5"/>
<use href="#c0o" fill="none" stroke="#000" stroke-opacity=".3" stroke-width=".6"/>
<use href="#na"/>
<text x="3.7" y="141.7" font-family="'Liberation Serif', serif" font-size="8.6" fill="#333" opacity=".99">2022<tspan dy="-1.5">–</tspan><tspan dy="1.5">09</tspan><tspan dy="-1.5">–</tspan><tspan dy="1.5">08</tspan></text>
<rect x="0.6" y="0.5" width="144.9" height="145.7" fill="none" stroke="#6a6a6a" stroke-width="1"/>
</g>
<g transform="translate(167,72)">
<g clip-path="url(#c1)"><g filter="url(#cm)"><rect x="-5" y="-5" width="160" height="160" fill="#2b2b2b"/><ellipse cx="19.6" cy="49.0" rx="23.9" ry="17.5" fill="url(#v0f)"/><ellipse cx="44.1" cy="80.8" rx="23.9" ry="17.5" fill="url(#v0f)"/><ellipse cx="73.5" cy="95.5" rx="28.7" ry="10.8" fill="url(#v0f)"/><ellipse cx="66.1" cy="41.6" rx="17.5" ry="14.3" fill="url(#v0f)"/><ellipse cx="110.2" cy="120.0" rx="14.3" ry="8.9" fill="url(#v0f)"/><ellipse cx="127.4" cy="107.8" rx="10.8" ry="10.8" fill="url(#v0f)"/><ellipse cx="120.0" cy="44.1" rx="10.8" ry="7.0" fill="url(#v0f)"/><ellipse cx="60.0" cy="57.6" rx="8.1" ry="6.8" fill="url(#v50)"/><ellipse cx="38.0" cy="71.0" rx="9.5" ry="6.8" fill="url(#v50)"/><ellipse cx="58.8" cy="85.7" rx="8.1" ry="6.8" fill="url(#v50)"/><ellipse cx="78.4" cy="71.0" rx="12.2" ry="8.1" fill="url(#v40)"/><ellipse cx="17.1" cy="57.6" rx="8.1" ry="6.1" fill="url(#v30)"/><ellipse cx="49.0" cy="39.2" rx="10.1" ry="8.1" fill="url(#v30)"/><ellipse cx="93.1" cy="23.3" rx="12.2" ry="12.2" fill="url(#v35)"/><ellipse cx="80.8" cy="127.4" rx="23.7" ry="9.5" fill="url(#v33)"/><ellipse cx="60.0" cy="117.6" rx="15.2" ry="15.2" fill="url(#v33)"/><ellipse cx="31.8" cy="95.5" rx="6.8" ry="12.8" fill="url(#v50)"/><ellipse cx="31.8" cy="95.5" rx="3.4" ry="7.4" fill="url(#v75)"/><ellipse cx="52.7" cy="100.4" rx="10.1" ry="10.1" fill="url(#v50)"/><ellipse cx="52.7" cy="100.4" rx="5.7" ry="5.7" fill="url(#v80)"/><ellipse cx="75.9" cy="106.6" rx="18.6" ry="11.5" fill="url(#v50)"/><ellipse cx="75.9" cy="106.6" rx="12.2" ry="6.1" fill="url(#v100)"/><ellipse cx="90.6" cy="84.5" rx="16.2" ry="10.1" fill="url(#v50)"/><ellipse cx="91.1" cy="85.0" rx="9.5" ry="5.7" fill="url(#v75)"/><ellipse cx="85.7" cy="40.4" rx="20.3" ry="12.2" fill="url(#v50)" transform="rotate(-40 85.7 40.4)"/><ellipse cx="85.7" cy="39.7" rx="12.2" ry="6.8" fill="url(#v80)" transform="rotate(-40 85.7 39.7)"/><ellipse cx="82.1" cy="43.6" rx="6.8" ry="6.8" fill="url(#v100)"/><ellipse cx="101.7" cy="44.1" rx="13.5" ry="13.5" fill="url(#v60)"/><ellipse cx="101.7" cy="44.1" rx="8.8" ry="8.8" fill="url(#v100)"/><ellipse cx="107.8" cy="31.8" rx="8.8" ry="6.1" fill="url(#v50)"/><ellipse cx="122.5" cy="30.6" rx="20.3" ry="8.1" fill="url(#v50)"/><ellipse cx="123.0" cy="30.6" rx="9.5" ry="4.4" fill="url(#v72)"/><ellipse cx="132.3" cy="57.6" rx="21.0" ry="10.1" fill="url(#v55)" transform="rotate(10 132.3 57.6)"/><ellipse cx="125.4" cy="55.4" rx="9.5" ry="6.1" fill="url(#v78)"/></g></g>
<use href="#c1i" fill="#ffff00" stroke="#000" stroke-opacity=".3" stroke-width=".5"/>
<use href="#c1o" fill="none" stroke="#000" stroke-opacity=".3" stroke-width=".6"/>
<use href="#na"/>
<text x="3.7" y="141.7" font-family="'Liberation Serif', serif" font-size="8.6" fill="#333" opacity=".99">2022<tspan dy="-1.5">–</tspan><tspan dy="1.5">09</tspan><tspan dy="-1.5">–</tspan><tspan dy="1.5">09</tspan></text>
<rect x="0.0" y="0.5" width="145.3" height="145.7" fill="none" stroke="#6a6a6a" stroke-width="1"/>
</g>
<g transform="translate(319,72)">
<g clip-path="url(#c1)"><g filter="url(#cm)"><rect x="-5" y="-5" width="160" height="160" fill="#545454"/><polygon points="-4.9,34.3 24.5,22.0 58.8,20.8 74.7,28.2 70.6,41.6 58.8,55.9 36.7,61.7 9.8,64.9 -4.9,68.6" fill="#000000" filter="url(#b9)"/><ellipse cx="98.0" cy="20.8" rx="19.1" ry="13.4" fill="url(#v0f)"/><ellipse cx="113.9" cy="29.4" rx="8.9" ry="7.0" fill="url(#v0f)"/><ellipse cx="124.9" cy="34.3" rx="8.5" ry="8.5" fill="url(#v25)"/><polygon points="44.1,116.4 61.2,107.8 80.8,109.8 97.5,122.5 94.3,142.1 46.5,142.1" fill="#000000" filter="url(#b8)"/><ellipse cx="71.0" cy="85.7" rx="9.5" ry="7.4" fill="url(#v12)"/><ellipse cx="56.3" cy="100.4" rx="11.5" ry="9.5" fill="url(#v20)"/><ellipse cx="78.4" cy="61.2" rx="35.5" ry="27.0" fill="url(#v47)"/><polygon points="28.2,69.8 49.0,71.0 52.7,83.3 46.5,98.0 29.4,104.1 12.2,98.0 19.6,85.7 30.6,80.8" fill="#bdbdbd" filter="url(#b7)"/><ellipse cx="41.6" cy="80.8" rx="12.2" ry="14.2" fill="url(#v100)"/><ellipse cx="33.1" cy="73.5" rx="10.1" ry="6.8" fill="url(#v100)"/><ellipse cx="24.5" cy="93.1" rx="8.8" ry="6.1" fill="url(#v100)"/><polygon points="87.0,100.4 102.9,104.1 117.6,112.7 129.8,106.6 139.6,115.1 131.1,128.6 107.8,133.5 95.5,122.5 89.4,110.2" fill="#bdbdbd" filter="url(#b7)"/><ellipse cx="98.0" cy="111.5" rx="14.2" ry="10.1" fill="url(#v100)" transform="rotate(20 98.0 111.5)"/><ellipse cx="110.7" cy="123.7" rx="14.2" ry="9.5" fill="url(#v100)"/><ellipse cx="122.5" cy="115.6" rx="8.8" ry="8.1" fill="url(#v100)"/><ellipse cx="128.6" cy="107.8" rx="8.8" ry="6.8" fill="url(#v50)"/><ellipse cx="74.7" cy="58.3" rx="8.1" ry="4.7" fill="url(#v85)"/><ellipse cx="61.2" cy="65.7" rx="8.8" ry="6.8" fill="url(#v72)"/><ellipse cx="67.4" cy="71.5" rx="8.1" ry="6.1" fill="url(#v70)"/><ellipse cx="80.8" cy="76.4" rx="10.1" ry="8.1" fill="url(#v70)"/><ellipse cx="87.0" cy="96.0" rx="6.1" ry="8.8" fill="url(#v72)"/><ellipse cx="101.7" cy="44.1" rx="10.1" ry="6.1" fill="url(#v55)"/><ellipse cx="133.5" cy="57.3" rx="13.5" ry="10.1" fill="url(#v80)"/><ellipse cx="127.4" cy="49.0" rx="10.1" ry="6.8" fill="url(#v45)"/></g></g>
<use href="#c1i" fill="#ff0000" stroke="#000" stroke-opacity=".3" stroke-width=".5"/>
<use href="#c1o" fill="none" stroke="#000" stroke-opacity=".3" stroke-width=".6"/>
<use href="#na"/>
<text x="3.7" y="141.7" font-family="'Liberation Serif', serif" font-size="8.6" fill="#333" opacity=".99">2022<tspan dy="-1.5">–</tspan><tspan dy="1.5">09</tspan><tspan dy="-1.5">–</tspan><tspan dy="1.5">10</tspan></text>
<rect x="0.7" y="0.5" width="145.4" height="145.7" fill="none" stroke="#6a6a6a" stroke-width="1"/>
</g>
<g transform="translate(472,72)">
<g clip-path="url(#c1)"><g filter="url(#cm)"><rect x="-5" y="-5" width="160" height="160" fill="#212121"/><ellipse cx="71.0" cy="58.8" rx="40.6" ry="27.0" fill="url(#v4)"/><ellipse cx="90.6" cy="39.2" rx="15.2" ry="11.8" fill="url(#v3)"/><ellipse cx="29.4" cy="41.6" rx="20.3" ry="13.5" fill="url(#v20)"/><ellipse cx="41.6" cy="93.1" rx="23.7" ry="16.9" fill="url(#v22)"/><polygon points="45.3,98.0 80.8,94.3 105.3,90.6 110.2,129.8 49.0,139.6" fill="#4c4c4c" filter="url(#b12)"/><ellipse cx="90.6" cy="121.3" rx="9.5" ry="7.4" fill="url(#v8)"/><ellipse cx="75.9" cy="110.2" rx="8.5" ry="13.5" fill="url(#v15)"/><ellipse cx="95.5" cy="75.9" rx="14.2" ry="23.7" fill="url(#v33)"/><ellipse cx="115.1" cy="39.2" rx="25.4" ry="22.0" fill="url(#v50)"/><polygon points="104.9,36.7 114.6,31.4 123.0,36.7 122.0,49.0 115.1,55.4 105.8,52.9" fill="#ffffff" filter="url(#b9)"/><ellipse cx="122.0" cy="30.6" rx="10.1" ry="8.1" fill="url(#v72)"/><ellipse cx="129.3" cy="37.2" rx="6.1" ry="7.4" fill="url(#v10)"/><polygon points="120.0,48.5 129.8,47.0 140.9,51.9 147.0,57.6 138.4,68.6 129.8,58.3 122.5,56.8" fill="#b8b8b8" filter="url(#b4)"/><polygon points="101.7,117.1 115.1,108.3 133.5,104.1 140.9,115.1 132.3,129.8 110.2,131.1" fill="#b8b8b8" filter="url(#b12)"/><ellipse cx="83.3" cy="68.6" rx="6.1" ry="6.1" fill="url(#v50)"/><ellipse cx="84.5" cy="100.4" rx="10.1" ry="6.1" fill="url(#v50)"/><ellipse cx="98.0" cy="107.8" rx="10.1" ry="7.4" fill="url(#v50)"/><ellipse cx="63.7" cy="122.5" rx="8.1" ry="10.1" fill="url(#v60)"/><ellipse cx="55.1" cy="127.4" rx="6.8" ry="4.1" fill="url(#v75)"/></g></g>
<use href="#c1i" fill="#ffa400" stroke="#000" stroke-opacity=".3" stroke-width=".5"/>
<use href="#c1o" fill="none" stroke="#000" stroke-opacity=".3" stroke-width=".6"/>
<use href="#na"/>
<text x="3.7" y="141.7" font-family="'Liberation Serif', serif" font-size="8.6" fill="#333" opacity=".99">2022<tspan dy="-1.5">–</tspan><tspan dy="1.5">09</tspan><tspan dy="-1.5">–</tspan><tspan dy="1.5">11</tspan></text>
<rect x="0.6" y="0.5" width="145.0" height="145.7" fill="none" stroke="#6a6a6a" stroke-width="1"/>
</g>
<g transform="translate(14,225)">
<g clip-path="url(#c1)"><g filter="url(#cm)"><rect x="-5" y="-5" width="160" height="160" fill="#0a0a0a"/><ellipse cx="52.7" cy="78.4" rx="37.2" ry="33.8" fill="url(#v27)" transform="rotate(15 52.7 78.4)"/><ellipse cx="36.7" cy="94.3" rx="20.3" ry="16.9" fill="url(#v27)"/><ellipse cx="61.2" cy="56.3" rx="20.3" ry="13.5" fill="url(#v20)"/><ellipse cx="117.6" cy="31.8" rx="13.5" ry="10.1" fill="url(#v30)"/><ellipse cx="105.3" cy="26.9" rx="10.1" ry="5.1" fill="url(#v25)" transform="rotate(-30 105.3 26.9)"/><polygon points="95.5,36.3 115.1,40.4 107.8,56.3 104.1,73.5 93.1,93.1 98.0,102.9 137.2,102.9 139.6,129.8 73.5,139.6 47.8,129.8 50.2,105.3 58.3,83.3 70.6,65.2 87.7,48.0" fill="#8c8c8c" filter="url(#b15)"/><ellipse cx="132.3" cy="56.3" rx="13.5" ry="8.5" fill="url(#v50)"/><ellipse cx="117.6" cy="49.5" rx="10.1" ry="6.1" fill="url(#v70)"/><ellipse cx="105.3" cy="45.3" rx="12.2" ry="8.1" fill="url(#v100)"/><polygon points="83.3,63.7 102.9,58.8 101.7,78.4 90.6,95.5 80.8,105.3 83.3,132.3 58.8,129.8 57.6,105.3 68.6,85.7" fill="#bfbfbf" filter="url(#b8)"/><ellipse cx="93.1" cy="73.5" rx="15.6" ry="19.6" fill="url(#v100)" transform="rotate(15 93.1 73.5)"/><ellipse cx="67.4" cy="110.2" rx="20.3" ry="19.6" fill="url(#v85)"/><ellipse cx="75.9" cy="124.9" rx="15.6" ry="11.5" fill="url(#v100)"/><ellipse cx="61.2" cy="122.0" rx="11.5" ry="10.8" fill="url(#v90)"/><ellipse cx="110.2" cy="110.2" rx="16.9" ry="13.5" fill="url(#v66)"/><ellipse cx="126.9" cy="111.5" rx="15.6" ry="13.5" fill="url(#v82)"/><ellipse cx="94.3" cy="113.9" rx="8.1" ry="6.1" fill="url(#v38)"/><ellipse cx="115.1" cy="123.7" rx="13.5" ry="6.1" fill="url(#v50)"/></g></g>
<use href="#c1i" fill="#ffff00" stroke="#000" stroke-opacity=".3" stroke-width=".5"/>
<use href="#c1o" fill="none" stroke="#000" stroke-opacity=".3" stroke-width=".6"/>
<use href="#na"/>
<text x="3.7" y="141.7" font-family="'Liberation Serif', serif" font-size="8.6" fill="#333" opacity=".99">2022<tspan dy="-1.5">–</tspan><tspan dy="1.5">09</tspan><tspan dy="-1.5">–</tspan><tspan dy="1.5">12</tspan></text>
<rect x="0.6" y="0.5" width="144.9" height="144.8" fill="none" stroke="#6a6a6a" stroke-width="1"/>
</g>
<g transform="translate(167,225)">
<g clip-path="url(#c1)"><g filter="url(#cm)"><rect x="-5" y="-5" width="160" height="160" fill="#121212"/><ellipse cx="80.8" cy="63.7" rx="23.7" ry="15.6" fill="url(#v30)"/><ellipse cx="58.8" cy="110.2" rx="10.1" ry="19.6" fill="url(#v42)"/><ellipse cx="49.0" cy="71.0" rx="13.5" ry="10.1" fill="url(#v35)"/><polygon points="0.0,44.1 26.9,26.9 63.7,28.2 75.9,39.2 73.5,56.3 49.0,68.6 42.9,80.8 26.9,83.3 26.9,68.6 4.9,61.2" fill="#999999" filter="url(#b9)"/><ellipse cx="68.6" cy="41.6" rx="16.2" ry="16.2" fill="url(#v50)"/><ellipse cx="71.0" cy="56.3" rx="10.1" ry="10.1" fill="url(#v45)"/><ellipse cx="31.8" cy="49.0" rx="37.2" ry="28.7" fill="url(#v72)" transform="rotate(-10 31.8 49.0)"/><ellipse cx="46.5" cy="40.4" rx="14.2" ry="7.4" fill="url(#v30)"/><ellipse cx="12.2" cy="51.4" rx="17.6" ry="15.6" fill="url(#v100)"/><ellipse cx="41.6" cy="59.3" rx="19.6" ry="11.5" fill="url(#v100)"/><ellipse cx="36.7" cy="74.0" rx="8.1" ry="10.1" fill="url(#v100)"/><ellipse cx="36.7" cy="31.8" rx="12.2" ry="8.1" fill="url(#v80)"/><ellipse cx="58.8" cy="31.8" rx="12.2" ry="8.1" fill="url(#v80)"/><ellipse cx="56.8" cy="49.0" rx="10.1" ry="6.1" fill="url(#v90)"/><ellipse cx="80.8" cy="52.7" rx="6.1" ry="8.8" fill="url(#v50)"/><ellipse cx="80.8" cy="52.7" rx="4.1" ry="6.1" fill="url(#v90)"/><ellipse cx="94.3" cy="56.3" rx="7.4" ry="5.1" fill="url(#v72)"/><ellipse cx="85.7" cy="26.9" rx="6.1" ry="7.4" fill="url(#v72)"/><ellipse cx="107.8" cy="35.5" rx="5.1" ry="8.5" fill="url(#v72)"/><ellipse cx="71.0" cy="83.3" rx="16.2" ry="19.6" fill="url(#v50)" transform="rotate(20 71.0 83.3)"/><ellipse cx="66.1" cy="77.2" rx="5.1" ry="6.1" fill="url(#v100)"/><ellipse cx="74.7" cy="85.7" rx="8.1" ry="8.1" fill="url(#v78)"/><ellipse cx="29.4" cy="80.8" rx="10.1" ry="10.1" fill="url(#v50)"/><ellipse cx="23.3" cy="91.9" rx="10.8" ry="10.8" fill="url(#v75)"/><ellipse cx="90.6" cy="90.6" rx="8.1" ry="6.1" fill="url(#v50)"/><ellipse cx="71.0" cy="132.3" rx="8.8" ry="3.4" fill="url(#v90)"/><ellipse cx="90.6" cy="124.9" rx="12.2" ry="4.7" fill="url(#v50)"/></g></g>
<use href="#c1i" fill="#4ab000" stroke="#000" stroke-opacity=".3" stroke-width=".5"/>
<use href="#c1o" fill="none" stroke="#000" stroke-opacity=".3" stroke-width=".6"/>
<use href="#na"/>
<text x="3.7" y="141.7" font-family="'Liberation Serif', serif" font-size="8.6" fill="#333" opacity=".99">2022<tspan dy="-1.5">–</tspan><tspan dy="1.5">09</tspan><tspan dy="-1.5">–</tspan><tspan dy="1.5">13</tspan></text>
<rect x="0.0" y="0.5" width="145.3" height="144.8" fill="none" stroke="#6a6a6a" stroke-width="1"/>
</g>
<g transform="translate(319,225)">
<g clip-path="url(#c1)"><g filter="url(#cm)"><rect x="-5" y="-5" width="160" height="160" fill="#454545"/><ellipse cx="29.4" cy="61.2" rx="77.8" ry="67.6" fill="url(#v10)"/><ellipse cx="36.7" cy="78.4" rx="21.0" ry="16.9" fill="url(#v5)"/><ellipse cx="31.8" cy="36.7" rx="18.6" ry="12.8" fill="url(#v5)"/><ellipse cx="17.1" cy="50.2" rx="20.3" ry="13.5" fill="url(#v5)"/><ellipse cx="58.8" cy="49.0" rx="16.9" ry="12.2" fill="url(#v14)"/><ellipse cx="73.5" cy="56.8" rx="10.1" ry="8.1" fill="url(#v12)"/><ellipse cx="98.0" cy="17.6" rx="14.2" ry="8.1" fill="url(#v8)"/><ellipse cx="58.8" cy="98.0" rx="16.9" ry="13.5" fill="url(#v20)"/><ellipse cx="94.3" cy="73.5" rx="16.9" ry="40.6" fill="url(#v40)"/><ellipse cx="93.1" cy="33.1" rx="13.5" ry="13.5" fill="url(#v38)"/><ellipse cx="73.5" cy="117.6" rx="30.4" ry="16.9" fill="url(#v38)"/><ellipse cx="115.1" cy="113.2" rx="23.7" ry="11.5" fill="url(#v42)"/><ellipse cx="105.3" cy="41.6" rx="20.3" ry="16.9" fill="url(#v50)"/><ellipse cx="102.9" cy="44.1" rx="7.4" ry="7.4" fill="url(#v100)"/><ellipse cx="120.0" cy="33.1" rx="19.6" ry="9.5" fill="url(#v50)" transform="rotate(10 120.0 33.1)"/><ellipse cx="121.3" cy="31.4" rx="12.2" ry="5.7" fill="url(#v75)"/><polygon points="118.6,49.0 129.8,46.5 140.9,52.4 146.5,58.3 137.7,69.6 129.8,60.3 121.5,57.8" fill="#f7f7f7" filter="url(#b4)"/><ellipse cx="117.1" cy="50.0" rx="6.8" ry="4.7" fill="url(#v72)"/><ellipse cx="110.2" cy="121.5" rx="40.6" ry="13.5" fill="url(#v50)" transform="rotate(-5 110.2 121.5)"/><ellipse cx="94.3" cy="125.4" rx="12.8" ry="4.7" fill="url(#v100)" transform="rotate(-10 94.3 125.4)"/><ellipse cx="110.2" cy="124.4" rx="20.3" ry="5.1" fill="url(#v78)"/><ellipse cx="126.2" cy="122.5" rx="7.4" ry="6.4" fill="url(#v100)"/></g></g>
<use href="#c1i" fill="#ff8c00" stroke="#000" stroke-opacity=".3" stroke-width=".5"/>
<use href="#c1o" fill="none" stroke="#000" stroke-opacity=".3" stroke-width=".6"/>
<use href="#na"/>
<text x="3.7" y="141.7" font-family="'Liberation Serif', serif" font-size="8.6" fill="#333" opacity=".99">2022<tspan dy="-1.5">–</tspan><tspan dy="1.5">09</tspan><tspan dy="-1.5">–</tspan><tspan dy="1.5">14</tspan></text>
<rect x="0.7" y="0.5" width="145.4" height="144.8" fill="none" stroke="#6a6a6a" stroke-width="1"/>
</g>
<g transform="translate(472,225)">
<g clip-path="url(#c1)"><g filter="url(#cm)"><rect x="-5" y="-5" width="160" height="160" fill="#121212"/><ellipse cx="102.9" cy="112.7" rx="20.3" ry="10.1" fill="url(#v25)"/><ellipse cx="122.5" cy="115.1" rx="13.5" ry="10.1" fill="url(#v22)"/><ellipse cx="110.2" cy="73.5" rx="10.1" ry="20.3" fill="url(#v20)"/><ellipse cx="63.7" cy="107.8" rx="18.6" ry="10.8" fill="url(#v45)"/><ellipse cx="80.8" cy="102.9" rx="15.2" ry="10.8" fill="url(#v38)"/><ellipse cx="53.9" cy="115.1" rx="12.8" ry="12.8" fill="url(#v33)"/><ellipse cx="95.5" cy="20.8" rx="8.1" ry="10.1" fill="url(#v40)"/><ellipse cx="117.6" cy="36.7" rx="8.1" ry="10.1" fill="url(#v25)"/><ellipse cx="73.5" cy="122.5" rx="33.8" ry="10.1" fill="url(#v20)"/><polygon points="0.0,45.3 14.7,39.2 29.4,26.9 57.6,24.5 61.2,34.3 52.7,46.5 49.0,63.7 52.7,75.9 39.2,84.5 26.9,78.4 30.6,66.1 14.7,61.2 0.0,57.6" fill="#999999" filter="url(#b8)"/><ellipse cx="46.5" cy="63.7" rx="10.8" ry="18.6" fill="url(#v50)"/><ellipse cx="49.0" cy="49.0" rx="11.5" ry="11.5" fill="url(#v50)"/><ellipse cx="63.7" cy="61.2" rx="13.5" ry="10.1" fill="url(#v35)"/><ellipse cx="83.3" cy="71.0" rx="13.5" ry="10.1" fill="url(#v30)"/><ellipse cx="24.5" cy="46.5" rx="33.8" ry="16.2" fill="url(#v75)" transform="rotate(-25 24.5 46.5)"/><ellipse cx="31.8" cy="57.6" rx="10.1" ry="6.1" fill="url(#v15)"/><ellipse cx="9.8" cy="49.0" rx="14.2" ry="10.1" fill="url(#v100)"/><ellipse cx="39.2" cy="36.7" rx="10.8" ry="8.8" fill="url(#v100)"/><ellipse cx="53.9" cy="30.6" rx="6.8" ry="8.8" fill="url(#v90)"/><ellipse cx="35.5" cy="73.5" rx="16.2" ry="14.2" fill="url(#v75)"/><ellipse cx="36.7" cy="73.5" rx="10.8" ry="9.5" fill="url(#v100)"/><ellipse cx="23.3" cy="91.9" rx="10.8" ry="10.8" fill="url(#v85)"/><ellipse cx="52.7" cy="51.0" rx="6.8" ry="3.7" fill="url(#v75)"/><ellipse cx="60.0" cy="55.1" rx="4.7" ry="5.4" fill="url(#v75)"/><ellipse cx="79.6" cy="51.4" rx="4.7" ry="5.4" fill="url(#v75)"/><ellipse cx="73.5" cy="44.1" rx="6.1" ry="8.1" fill="url(#v50)"/><ellipse cx="94.3" cy="56.3" rx="8.1" ry="10.1" fill="url(#v70)"/><ellipse cx="94.3" cy="56.3" rx="5.4" ry="7.4" fill="url(#v100)"/><ellipse cx="100.4" cy="44.1" rx="4.7" ry="4.7" fill="url(#v75)"/><ellipse cx="85.7" cy="29.4" rx="5.4" ry="4.7" fill="url(#v75)"/><ellipse cx="107.8" cy="34.3" rx="4.4" ry="8.1" fill="url(#v50)"/><ellipse cx="126.2" cy="51.4" rx="6.8" ry="4.7" fill="url(#v75)"/><ellipse cx="66.1" cy="78.4" rx="4.7" ry="6.8" fill="url(#v75)"/><ellipse cx="77.2" cy="85.7" rx="11.5" ry="8.8" fill="url(#v50)"/><ellipse cx="77.2" cy="85.7" rx="7.4" ry="5.7" fill="url(#v90)"/><ellipse cx="73.5" cy="132.3" rx="8.8" ry="3.4" fill="url(#v75)"/></g></g>
<use href="#c1i" fill="#5db800" stroke="#000" stroke-opacity=".3" stroke-width=".5"/>
<use href="#c1o" fill="none" stroke="#000" stroke-opacity=".3" stroke-width=".6"/>
<use href="#na"/>
<text x="3.7" y="141.7" font-family="'Liberation Serif', serif" font-size="8.6" fill="#333" opacity=".99">2022<tspan dy="-1.5">–</tspan><tspan dy="1.5">09</tspan><tspan dy="-1.5">–</tspan><tspan dy="1.5">15</tspan></text>
<rect x="0.6" y="0.5" width="145.0" height="144.8" fill="none" stroke="#6a6a6a" stroke-width="1"/>
</g>
<g transform="translate(14,378)">
<g clip-path="url(#c1)"><g filter="url(#cm)"><rect x="-5" y="-5" width="160" height="160" fill="#141414"/><ellipse cx="73.5" cy="63.7" rx="27.0" ry="16.9" fill="url(#v27)"/><ellipse cx="80.8" cy="29.4" rx="15.2" ry="11.5" fill="url(#v30)"/><ellipse cx="95.5" cy="127.9" rx="64.2" ry="10.1" fill="url(#v42)" transform="rotate(-5 95.5 127.9)"/><ellipse cx="56.3" cy="80.8" rx="16.9" ry="13.5" fill="url(#v20)"/><ellipse cx="105.3" cy="68.6" rx="10.1" ry="20.3" fill="url(#v20)"/><ellipse cx="34.3" cy="49.0" rx="50.7" ry="38.9" fill="url(#v42)"/><ellipse cx="12.2" cy="50.2" rx="15.2" ry="11.8" fill="url(#v40)"/><ellipse cx="46.5" cy="36.7" rx="30.4" ry="16.2" fill="url(#v75)" transform="rotate(10 46.5 36.7)"/><ellipse cx="34.3" cy="31.8" rx="10.1" ry="8.1" fill="url(#v100)"/><ellipse cx="58.8" cy="39.2" rx="13.5" ry="13.5" fill="url(#v100)"/><ellipse cx="31.8" cy="57.6" rx="19.6" ry="13.5" fill="url(#v70)"/><ellipse cx="31.8" cy="58.1" rx="11.5" ry="7.4" fill="url(#v100)"/><ellipse cx="100.4" cy="21.6" rx="19.6" ry="15.6" fill="url(#v50)"/><ellipse cx="100.4" cy="20.8" rx="11.5" ry="9.5" fill="url(#v100)"/><ellipse cx="102.9" cy="44.1" rx="12.8" ry="11.5" fill="url(#v50)"/><ellipse cx="102.9" cy="44.1" rx="7.8" ry="6.8" fill="url(#v100)"/><ellipse cx="33.1" cy="94.3" rx="18.6" ry="11.5" fill="url(#v50)" transform="rotate(-20 33.1 94.3)"/><ellipse cx="36.7" cy="91.9" rx="6.1" ry="6.1" fill="url(#v75)"/><ellipse cx="26.9" cy="96.8" rx="6.1" ry="4.1" fill="url(#v85)"/><ellipse cx="132.3" cy="57.6" rx="6.8" ry="6.8" fill="url(#v62)"/><ellipse cx="94.3" cy="126.7" rx="14.9" ry="4.1" fill="url(#v80)" transform="rotate(-5 94.3 126.7)"/><ellipse cx="71.0" cy="131.6" rx="8.1" ry="3.7" fill="url(#v80)"/><ellipse cx="115.1" cy="125.4" rx="14.9" ry="4.1" fill="url(#v68)" transform="rotate(-5 115.1 125.4)"/><ellipse cx="58.8" cy="123.7" rx="6.8" ry="4.7" fill="url(#v55)" transform="rotate(30 58.8 123.7)"/></g></g>
<use href="#c1i" fill="#ffff00" stroke="#000" stroke-opacity=".3" stroke-width=".5"/>
<use href="#c1o" fill="none" stroke="#000" stroke-opacity=".3" stroke-width=".6"/>
<use href="#na"/>
<text x="3.7" y="141.7" font-family="'Liberation Serif', serif" font-size="8.6" fill="#333" opacity=".99">2022<tspan dy="-1.5">–</tspan><tspan dy="1.5">09</tspan><tspan dy="-1.5">–</tspan><tspan dy="1.5">16</tspan></text>
<rect x="0.6" y="0.4" width="144.9" height="144.8" fill="none" stroke="#6a6a6a" stroke-width="1"/>
</g>
<g transform="translate(167,378)">
<g clip-path="url(#c1)"><g filter="url(#cm)"><rect x="-5" y="-5" width="160" height="160" fill="#080808"/><ellipse cx="73.5" cy="120.0" rx="43.9" ry="20.3" fill="url(#v27)"/><ellipse cx="115.1" cy="115.1" rx="20.3" ry="11.5" fill="url(#v32)"/><ellipse cx="122.5" cy="107.8" rx="8.1" ry="4.1" fill="url(#v50)"/><ellipse cx="61.2" cy="61.2" rx="37.2" ry="43.9" fill="url(#v27)"/><ellipse cx="115.1" cy="29.4" rx="16.9" ry="13.5" fill="url(#v40)"/><polygon points="79.6,26.5 94.3,18.4 110.2,20.8 124.9,30.6 131.1,45.3 112.7,52.7 107.3,71.0 100.9,88.7 90.6,95.1 73.0,81.3 58.3,69.1 51.9,53.9 56.8,38.7" fill="#858585" filter="url(#b10)"/><polygon points="83.3,34.3 102.9,28.2 118.1,36.7 109.3,52.7 106.8,69.8 99.5,86.2 88.2,84.8 72.0,72.5 58.8,58.3 61.2,43.6" fill="#c7c7c7" filter="url(#b7)"/><ellipse cx="98.0" cy="51.4" rx="12.2" ry="16.2" fill="url(#v100)" transform="rotate(15 98.0 51.4)"/><ellipse cx="80.8" cy="51.4" rx="14.9" ry="12.8" fill="url(#v88)"/><ellipse cx="66.1" cy="50.2" rx="8.1" ry="6.1" fill="url(#v85)"/><ellipse cx="96.8" cy="78.4" rx="10.1" ry="10.1" fill="url(#v100)"/><ellipse cx="127.4" cy="49.0" rx="10.1" ry="6.8" fill="url(#v20)"/></g></g>
<use href="#c1i" fill="#71c100" stroke="#000" stroke-opacity=".3" stroke-width=".5"/>
<use href="#c1o" fill="none" stroke="#000" stroke-opacity=".3" stroke-width=".6"/>
<use href="#na"/>
<text x="3.7" y="141.7" font-family="'Liberation Serif', serif" font-size="8.6" fill="#333" opacity=".99">2022<tspan dy="-1.5">–</tspan><tspan dy="1.5">09</tspan><tspan dy="-1.5">–</tspan><tspan dy="1.5">17</tspan></text>
<rect x="0.0" y="0.4" width="145.3" height="144.8" fill="none" stroke="#6a6a6a" stroke-width="1"/>
</g>
<g transform="translate(319,378)">
<g clip-path="url(#c1)"><g filter="url(#cm)"><rect x="-5" y="-5" width="160" height="160" fill="#3b3b3b"/><ellipse cx="44.1" cy="34.3" rx="35.0" ry="17.8" fill="url(#v3f)"/><ellipse cx="98.0" cy="19.1" rx="15.9" ry="10.2" fill="url(#v0f)"/><ellipse cx="14.7" cy="49.0" rx="18.6" ry="15.2" fill="url(#v10)"/><ellipse cx="36.7" cy="83.3" rx="22.3" ry="22.3" fill="url(#v6)"/><ellipse cx="75.9" cy="93.1" rx="15.6" ry="11.5" fill="url(#v6)"/><ellipse cx="56.3" cy="61.2" rx="20.3" ry="13.5" fill="url(#v30)"/><ellipse cx="85.7" cy="49.0" rx="23.7" ry="23.7" fill="url(#v40)"/><ellipse cx="71.0" cy="39.2" rx="8.1" ry="6.1" fill="url(#v50)"/><ellipse cx="63.7" cy="115.1" rx="20.3" ry="13.5" fill="url(#v36)"/><ellipse cx="93.1" cy="74.7" rx="25.4" ry="16.2" fill="url(#v50)" transform="rotate(-30 93.1 74.7)"/><ellipse cx="94.3" cy="73.5" rx="17.6" ry="10.8" fill="url(#v72)" transform="rotate(-30 94.3 73.5)"/><ellipse cx="85.7" cy="78.4" rx="8.8" ry="8.8" fill="url(#v92)"/><polygon points="107.8,40.4 115.1,29.4 127.4,31.8 132.3,46.5 144.5,55.1 137.2,67.4 128.6,58.8 117.6,53.9 107.8,49.0" fill="#bfbfbf" filter="url(#b6)"/><ellipse cx="120.0" cy="38.0" rx="8.8" ry="8.8" fill="url(#v90)"/><ellipse cx="133.5" cy="58.3" rx="11.5" ry="6.8" fill="url(#v100)" transform="rotate(15 133.5 58.3)"/><ellipse cx="110.2" cy="120.0" rx="43.9" ry="18.9" fill="url(#v50)" transform="rotate(-8 110.2 120.0)"/><ellipse cx="115.1" cy="120.0" rx="32.1" ry="13.5" fill="url(#v75)" transform="rotate(-8 115.1 120.0)"/><ellipse cx="124.9" cy="121.3" rx="10.1" ry="6.1" fill="url(#v100)"/><ellipse cx="84.5" cy="123.7" rx="15.6" ry="7.4" fill="url(#v72)"/></g></g>
<use href="#c1i" fill="#ff0000" stroke="#000" stroke-opacity=".3" stroke-width=".5"/>
<use href="#c1o" fill="none" stroke="#000" stroke-opacity=".3" stroke-width=".6"/>
<use href="#na"/>
<text x="3.7" y="141.7" font-family="'Liberation Serif', serif" font-size="8.6" fill="#333" opacity=".99">2022<tspan dy="-1.5">–</tspan><tspan dy="1.5">09</tspan><tspan dy="-1.5">–</tspan><tspan dy="1.5">18</tspan></text>
<rect x="0.7" y="0.4" width="145.4" height="144.8" fill="none" stroke="#6a6a6a" stroke-width="1"/>
</g>
<g transform="translate(472,378)">
<g clip-path="url(#c1)"><g filter="url(#cm)"><rect x="-5" y="-5" width="160" height="160" fill="#080808"/><ellipse cx="57.6" cy="52.7" rx="57.5" ry="11.5" fill="url(#v17)" transform="rotate(-30 57.6 52.7)"/><polygon points="9.8,98.0 24.5,93.6 49.0,81.3 73.5,66.6 94.3,58.8 102.9,47.8 107.8,36.7 117.6,39.2 115.1,51.4 147.0,49.0 151.9,151.9 0.0,151.9" fill="#808080" filter="url(#b8)"/><polygon points="44.1,98.0 73.5,75.9 98.0,66.1 107.8,51.4 115.1,56.3 105.3,80.8 98.0,98.0 115.1,107.8 142.1,102.9 147.0,147.0 46.5,147.0" fill="#a8a8a8" filter="url(#b9)"/><ellipse cx="122.5" cy="31.8" rx="13.5" ry="13.5" fill="url(#v0)"/><ellipse cx="133.5" cy="57.6" rx="10.1" ry="7.4" fill="url(#v55)"/><ellipse cx="137.2" cy="60.0" rx="5.4" ry="4.7" fill="url(#v80)"/><ellipse cx="110.2" cy="44.6" rx="8.8" ry="8.1" fill="url(#v90)"/><ellipse cx="101.7" cy="56.3" rx="10.1" ry="10.1" fill="url(#v55)"/><ellipse cx="71.8" cy="90.4" rx="14.9" ry="12.2" fill="url(#v76)"/><ellipse cx="61.2" cy="107.8" rx="11.5" ry="11.5" fill="url(#v74)"/><ellipse cx="80.8" cy="98.0" rx="13.5" ry="10.1" fill="url(#v72)"/><ellipse cx="87.5" cy="109.5" rx="12.2" ry="10.8" fill="url(#v100)"/><ellipse cx="81.1" cy="117.6" rx="10.1" ry="8.8" fill="url(#v100)"/><ellipse cx="89.9" cy="76.9" rx="10.1" ry="8.1" fill="url(#v85)"/><ellipse cx="125.4" cy="107.1" rx="12.8" ry="6.8" fill="url(#v100)"/><ellipse cx="67.1" cy="123.7" rx="12.2" ry="8.8" fill="url(#v84)"/><ellipse cx="107.8" cy="123.0" rx="13.5" ry="6.8" fill="url(#v74)"/><ellipse cx="98.7" cy="111.5" rx="6.8" ry="6.1" fill="url(#v56)"/><ellipse cx="104.1" cy="118.1" rx="6.8" ry="6.1" fill="url(#v56)"/><ellipse cx="115.1" cy="115.1" rx="7.4" ry="6.1" fill="url(#v58)"/><ellipse cx="26.9" cy="96.8" rx="12.2" ry="5.4" fill="url(#v50)" transform="rotate(30 26.9 96.8)"/><ellipse cx="27.4" cy="97.3" rx="8.8" ry="3.7" fill="url(#v100)" transform="rotate(30 27.4 97.3)"/><ellipse cx="133.5" cy="118.8" rx="7.4" ry="10.1" fill="url(#v38)"/></g></g>
<use href="#c1i" fill="#ff0000" stroke="#000" stroke-opacity=".3" stroke-width=".5"/>
<use href="#c1o" fill="none" stroke="#000" stroke-opacity=".3" stroke-width=".6"/>
<use href="#na"/>
<text x="3.7" y="141.7" font-family="'Liberation Serif', serif" font-size="8.6" fill="#333" opacity=".99">2022<tspan dy="-1.5">–</tspan><tspan dy="1.5">09</tspan><tspan dy="-1.5">–</tspan><tspan dy="1.5">19</tspan></text>
<rect x="0.6" y="0.4" width="145.0" height="144.8" fill="none" stroke="#6a6a6a" stroke-width="1"/>
</g>
<rect x="224.3" y="556.2" width="375.9" height="6.1" fill="#fff" stroke="#000" stroke-width="0.8"/>
<rect x="224.30" y="556.2" width="23.49" height="6.1" fill="#000"/>
<rect x="271.29" y="556.2" width="23.49" height="6.1" fill="#000"/>
<rect x="318.28" y="556.2" width="93.98" height="6.1" fill="#000"/>
<rect x="506.23" y="556.2" width="93.98" height="6.1" fill="#000"/>
<text x="224.3" y="570.9" font-size="8.1" text-anchor="middle" fill="#111" opacity=".99">0</text>
<text x="271.3" y="570.9" font-size="8.1" text-anchor="middle" fill="#111" opacity=".99">37.5</text>
<text x="318.3" y="570.9" font-size="8.1" text-anchor="middle" fill="#111" opacity=".99">75</text>
<text x="412.2" y="570.9" font-size="8.1" text-anchor="middle" fill="#111" opacity=".99">150</text>
<text x="506.2" y="570.9" font-size="8.1" text-anchor="middle" fill="#111" opacity=".99">225</text>
<text x="600.2" y="570.9" font-size="8.1" text-anchor="middle" fill="#111" opacity=".99">300</text>
<text x="602.20 609.40" y="561.80" font-family="'Liberation Serif', 'Noto Serif CJK SC', serif" font-size="6.6" fill="#222">千米</text>
<g fill="#000" stroke="#000" stroke-width="20" stroke-linejoin="round" opacity="0.16">
<use href="#wm" x="0" y="0" transform="translate(-132.8,-9.6)"/>
<use href="#wm" x="0" y="0" transform="translate(9.4,-9.6)"/>
<use href="#wm" x="0" y="0" transform="translate(151.6,-9.6)"/>
<use href="#wm" x="0" y="0" transform="translate(293.8,-9.6)"/>
<use href="#wm" x="0" y="0" transform="translate(436.0,-9.6)"/>
<use href="#wm" x="0" y="0" transform="translate(578.2,-9.6)"/>
<use href="#wm" x="0" y="0" transform="translate(-132.8,132.0)"/>
<use href="#wm" x="0" y="0" transform="translate(9.4,132.0)"/>
<use href="#wm" x="0" y="0" transform="translate(151.6,132.0)"/>
<use href="#wm" x="0" y="0" transform="translate(293.8,132.0)"/>
<use href="#wm" x="0" y="0" transform="translate(436.0,132.0)"/>
<use href="#wm" x="0" y="0" transform="translate(578.2,132.0)"/>
<use href="#wm" x="0" y="0" transform="translate(-132.8,273.6)"/>
<use href="#wm" x="0" y="0" transform="translate(9.4,273.6)"/>
<use href="#wm" x="0" y="0" transform="translate(151.6,273.6)"/>
<use href="#wm" x="0" y="0" transform="translate(293.8,273.6)"/>
<use href="#wm" x="0" y="0" transform="translate(436.0,273.6)"/>
<use href="#wm" x="0" y="0" transform="translate(578.2,273.6)"/>
<use href="#wm" x="0" y="0" transform="translate(-132.8,415.2)"/>
<use href="#wm" x="0" y="0" transform="translate(9.4,415.2)"/>
<use href="#wm" x="0" y="0" transform="translate(151.6,415.2)"/>
<use href="#wm" x="0" y="0" transform="translate(293.8,415.2)"/>
<use href="#wm" x="0" y="0" transform="translate(436.0,415.2)"/>
<use href="#wm" x="0" y="0" transform="translate(578.2,415.2)"/>
<use href="#wm" x="0" y="0" transform="translate(-132.8,556.8)"/>
<use href="#wm" x="0" y="0" transform="translate(9.4,556.8)"/>
<use href="#wm" x="0" y="0" transform="translate(151.6,556.8)"/>
<use href="#wm" x="0" y="0" transform="translate(293.8,556.8)"/>
<use href="#wm" x="0" y="0" transform="translate(436.0,556.8)"/>
<use href="#wm" x="0" y="0" transform="translate(578.2,556.8)"/>
<use href="#wm" x="0" y="0" transform="translate(-132.8,698.4)"/>
<use href="#wm" x="0" y="0" transform="translate(9.4,698.4)"/>
<use href="#wm" x="0" y="0" transform="translate(151.6,698.4)"/>
<use href="#wm" x="0" y="0" transform="translate(293.8,698.4)"/>
<use href="#wm" x="0" y="0" transform="translate(436.0,698.4)"/>
<use href="#wm" x="0" y="0" transform="translate(578.2,698.4)"/>
</g>
</svg></body></html>
